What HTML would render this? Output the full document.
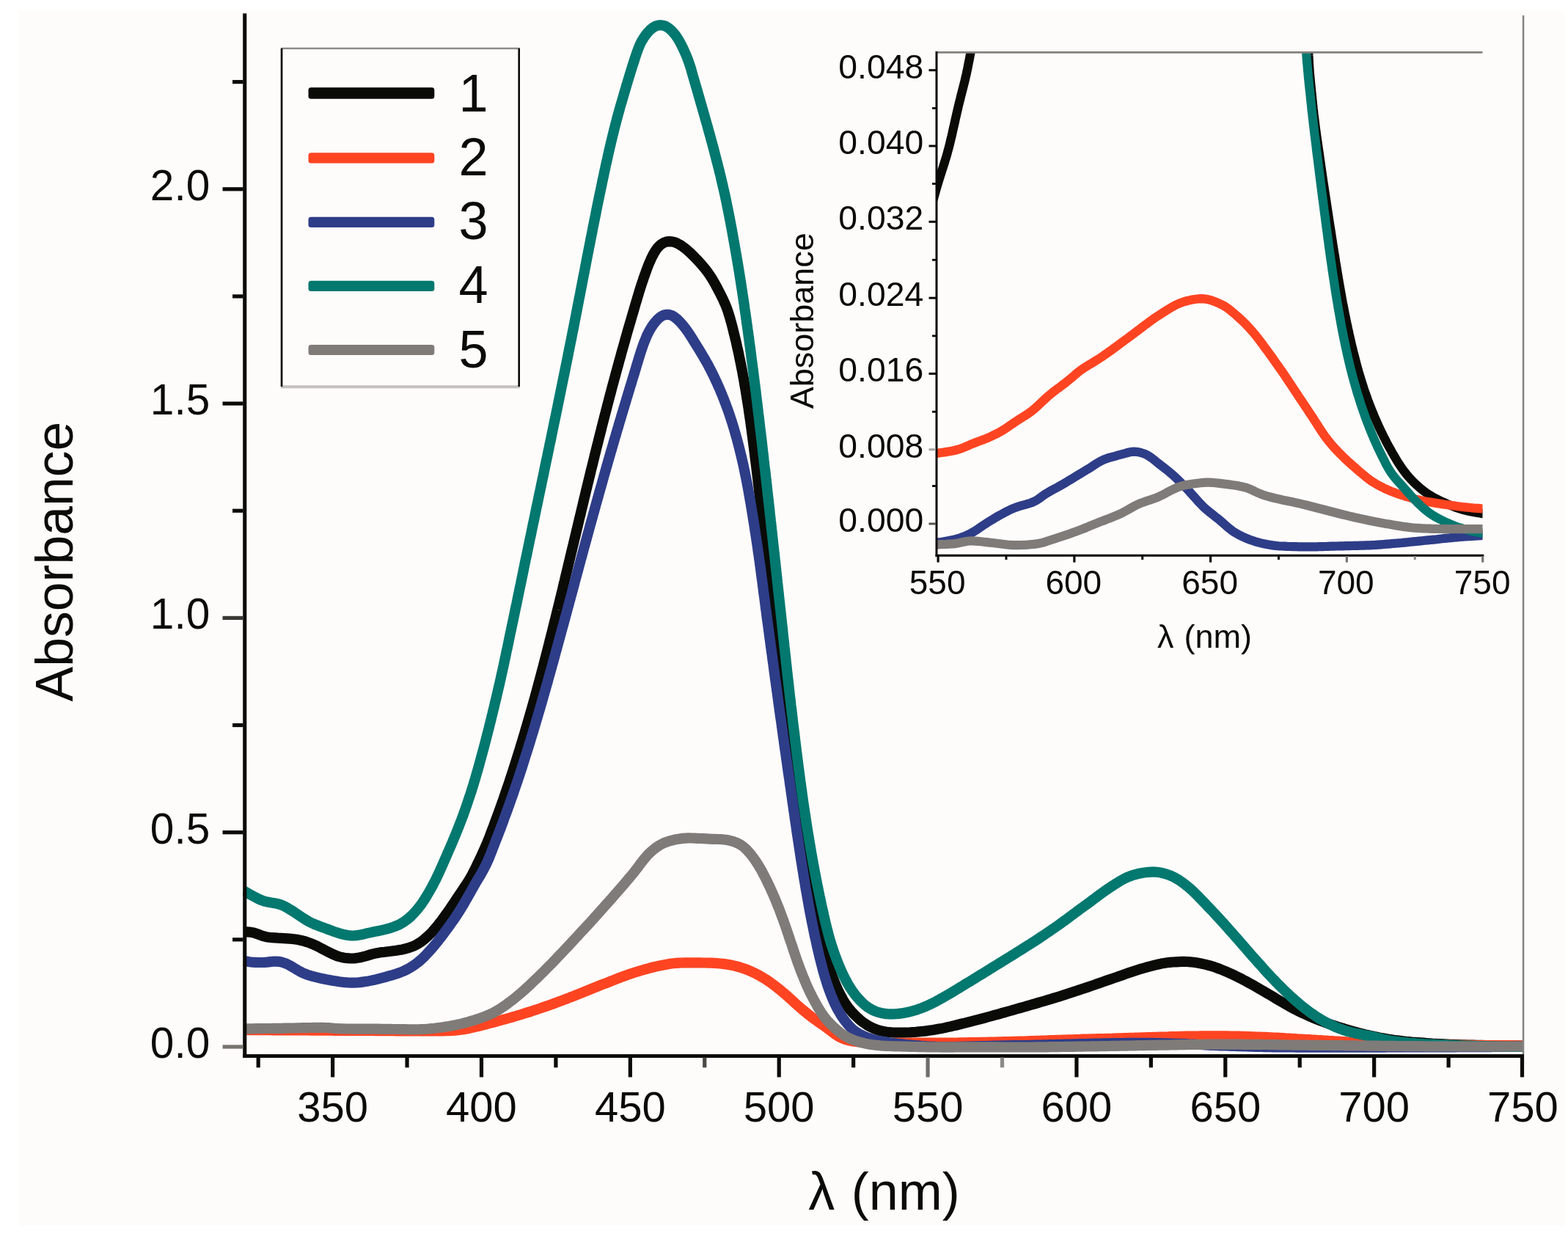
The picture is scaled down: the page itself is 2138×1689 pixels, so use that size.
<!DOCTYPE html>
<html lang="en"><head><meta charset="utf-8"><title>Absorbance spectra</title><style>html,body{margin:0;padding:0;background:#fff;}svg{display:block;}</style></head><body>
<svg width="2138" height="1689" viewBox="0 0 2138 1689" font-family="'Liberation Sans', sans-serif" fill="#0a0b06">
<rect x="0.00" y="0.00" width="2138.00" height="1689.00" fill="#ffffff"/>
<rect x="26.00" y="15.00" width="2107.50" height="1656.00" fill="#fefcfb"/>
<defs><clipPath id="cm"><rect x="331" y="15" width="1747" height="1425"/></clipPath><clipPath id="ci"><rect x="1277" y="71.5" width="744.5" height="685"/></clipPath></defs>
<g clip-path="url(#cm)">
<path d="M332.3,1270.1 L336.4,1270.3 L340.4,1270.6 L344.3,1271.2 L348.1,1272.2 L351.8,1273.5 L355.5,1274.9 L359.2,1276.2 L363.0,1277.2 L366.9,1277.8 L370.8,1278.2 L374.8,1278.4 L378.9,1278.7 L382.9,1278.9 L386.9,1279.1 L390.9,1279.4 L394.9,1279.7 L398.9,1280.0 L402.8,1280.5 L406.7,1281.1 L410.7,1282.0 L414.5,1282.9 L418.4,1284.1 L422.1,1285.4 L425.8,1286.8 L429.5,1288.4 L433.1,1290.2 L436.6,1292.0 L440.2,1293.9 L443.8,1295.8 L447.4,1297.6 L451.0,1299.4 L454.6,1301.2 L458.3,1302.7 L462.0,1304.0 L465.8,1305.0 L469.7,1305.7 L473.7,1306.2 L477.6,1306.5 L481.6,1306.5 L485.6,1306.1 L489.5,1305.5 L493.4,1304.7 L497.3,1303.7 L501.1,1302.6 L505.0,1301.4 L508.8,1300.3 L512.7,1299.4 L516.6,1298.7 L520.5,1298.1 L524.5,1297.7 L528.5,1297.2 L532.5,1296.8 L536.4,1296.3 L540.4,1295.8 L544.4,1295.1 L548.3,1294.4 L552.2,1293.5 L556.0,1292.4 L559.8,1291.2 L563.5,1289.8 L567.1,1288.1 L570.5,1286.1 L573.9,1284.0 L577.1,1281.6 L580.2,1279.0 L583.2,1276.3 L586.1,1273.5 L588.9,1270.7 L591.6,1267.7 L594.2,1264.7 L596.7,1261.6 L599.2,1258.5 L601.7,1255.3 L604.1,1252.1 L606.4,1248.8 L608.8,1245.6 L611.1,1242.3 L613.4,1239.0 L615.6,1235.7 L617.9,1232.4 L620.1,1229.1 L622.3,1225.7 L624.5,1222.4 L626.7,1219.1 L629.0,1215.8 L631.2,1212.5 L633.5,1209.1 L635.7,1205.8 L637.9,1202.5 L640.0,1199.1 L642.0,1195.6 L643.9,1192.1 L645.7,1188.6 L647.5,1185.0 L649.3,1181.4 L651.0,1177.8 L652.8,1174.2 L654.5,1170.6 L656.2,1167.0 L657.9,1163.3 L659.5,1159.7 L661.1,1156.0 L662.7,1152.4 L664.3,1148.7 L665.8,1145.0 L667.3,1141.3 L668.7,1137.5 L670.1,1133.8 L671.5,1130.0 L673.0,1126.3 L674.3,1122.5 L675.7,1118.8 L677.1,1115.0 L678.5,1111.3 L679.9,1107.5 L681.2,1103.8 L682.6,1100.0 L683.9,1096.2 L685.3,1092.5 L686.6,1088.7 L687.9,1084.9 L689.2,1081.1 L690.5,1077.4 L691.8,1073.6 L693.1,1069.8 L694.4,1066.0 L695.6,1062.2 L696.9,1058.4 L698.1,1054.6 L699.4,1050.8 L700.6,1047.0 L701.8,1043.2 L703.0,1039.4 L704.2,1035.5 L705.4,1031.7 L706.6,1027.9 L707.8,1024.1 L709.0,1020.3 L710.1,1016.4 L711.3,1012.6 L712.5,1008.8 L713.6,1004.9 L714.8,1001.1 L715.9,997.3 L717.0,993.4 L718.2,989.6 L719.3,985.8 L720.4,981.9 L721.5,978.1 L722.6,974.2 L723.7,970.4 L724.8,966.6 L725.9,962.7 L727.0,958.9 L728.1,955.0 L729.2,951.1 L730.2,947.3 L731.3,943.4 L732.3,939.6 L733.4,935.7 L734.4,931.9 L735.5,928.0 L736.5,924.1 L737.5,920.3 L738.5,916.4 L739.6,912.5 L740.6,908.7 L741.6,904.8 L742.6,900.9 L743.6,897.0 L744.6,893.2 L745.6,889.3 L746.6,885.4 L747.6,881.5 L748.6,877.7 L749.5,873.8 L750.5,869.9 L751.5,866.0 L752.5,862.2 L753.5,858.3 L754.4,854.4 L755.4,850.5 L756.4,846.6 L757.4,842.8 L758.3,838.9 L759.3,835.0 L760.2,831.1 L761.2,827.2 L762.2,823.3 L763.1,819.5 L764.0,815.6 L765.0,811.7 L765.9,807.8 L766.9,803.9 L767.8,800.0 L768.7,796.1 L769.7,792.2 L770.6,788.3 L771.5,784.5 L772.5,780.6 L773.4,776.7 L774.3,772.8 L775.2,768.9 L776.2,765.0 L777.1,761.1 L778.0,757.2 L779.0,753.3 L779.9,749.4 L780.8,745.6 L781.8,741.7 L782.7,737.8 L783.6,733.9 L784.6,730.0 L785.5,726.1 L786.4,722.2 L787.4,718.3 L788.3,714.4 L789.2,710.5 L790.1,706.7 L791.1,702.8 L792.0,698.9 L792.9,695.0 L793.9,691.1 L794.8,687.2 L795.7,683.3 L796.6,679.4 L797.6,675.5 L798.5,671.6 L799.4,667.7 L800.4,663.9 L801.3,660.0 L802.3,656.1 L803.2,652.2 L804.2,648.3 L805.1,644.4 L806.0,640.5 L807.0,636.7 L808.0,632.8 L808.9,628.9 L809.9,625.0 L810.8,621.1 L811.8,617.2 L812.7,613.4 L813.7,609.5 L814.7,605.6 L815.7,601.7 L816.6,597.8 L817.6,593.9 L818.6,590.1 L819.6,586.2 L820.5,582.3 L821.5,578.4 L822.5,574.6 L823.5,570.7 L824.5,566.8 L825.5,562.9 L826.5,559.1 L827.5,555.2 L828.5,551.3 L829.5,547.4 L830.5,543.6 L831.5,539.7 L832.6,535.8 L833.6,532.0 L834.6,528.1 L835.6,524.2 L836.7,520.4 L837.7,516.5 L838.8,512.7 L839.8,508.8 L840.9,504.9 L841.9,501.1 L843.0,497.2 L844.0,493.4 L845.1,489.5 L846.2,485.7 L847.2,481.8 L848.3,477.9 L849.4,474.1 L850.5,470.2 L851.6,466.4 L852.6,462.5 L853.7,458.7 L854.8,454.9 L855.9,451.0 L857.0,447.2 L858.1,443.3 L859.3,439.5 L860.4,435.6 L861.5,431.8 L862.6,428.0 L863.8,424.1 L864.9,420.3 L866.0,416.4 L867.1,412.6 L868.3,408.8 L869.4,404.9 L870.6,401.1 L871.7,397.3 L872.9,393.4 L874.1,389.6 L875.4,385.8 L876.7,382.0 L877.9,378.2 L879.3,374.5 L880.6,370.7 L882.0,366.9 L883.4,363.1 L884.9,359.4 L886.5,355.8 L888.1,352.1 L889.9,348.5 L891.8,345.0 L893.9,341.6 L896.2,338.3 L898.8,335.4 L901.7,332.9 L904.9,330.9 L908.5,329.6 L912.2,329.1 L916.0,329.3 L919.7,330.2 L923.4,331.7 L926.9,333.5 L930.2,335.7 L933.4,338.0 L936.5,340.5 L939.5,343.2 L942.5,345.9 L945.3,348.7 L948.1,351.6 L950.9,354.5 L953.6,357.4 L956.3,360.4 L958.9,363.5 L961.5,366.6 L963.9,369.7 L966.2,372.9 L968.5,376.2 L970.6,379.6 L972.7,383.0 L974.7,386.5 L976.6,390.0 L978.5,393.5 L980.3,397.1 L982.2,400.6 L984.0,404.2 L985.7,407.8 L987.4,411.5 L989.0,415.1 L990.5,418.8 L991.9,422.6 L993.1,426.3 L994.3,430.2 L995.5,434.0 L996.5,437.9 L997.6,441.7 L998.6,445.6 L999.6,449.5 L1000.5,453.4 L1001.5,457.2 L1002.4,461.1 L1003.4,465.0 L1004.3,468.9 L1005.1,472.8 L1006.0,476.7 L1006.9,480.6 L1007.7,484.6 L1008.5,488.5 L1009.3,492.4 L1010.1,496.3 L1010.9,500.2 L1011.7,504.2 L1012.4,508.1 L1013.1,512.0 L1013.9,516.0 L1014.6,519.9 L1015.2,523.8 L1015.9,527.8 L1016.6,531.7 L1017.2,535.7 L1017.9,539.6 L1018.5,543.6 L1019.1,547.5 L1019.8,551.5 L1020.4,555.4 L1021.0,559.4 L1021.5,563.3 L1022.1,567.3 L1022.7,571.2 L1023.3,575.2 L1023.8,579.2 L1024.4,583.1 L1024.9,587.1 L1025.4,591.1 L1026.0,595.0 L1026.5,599.0 L1027.0,603.0 L1027.5,606.9 L1028.0,610.9 L1028.5,614.9 L1029.0,618.8 L1029.5,622.8 L1030.0,626.8 L1030.5,630.7 L1031.0,634.7 L1031.5,638.7 L1031.9,642.7 L1032.4,646.6 L1032.9,650.6 L1033.4,654.6 L1033.8,658.5 L1034.3,662.5 L1034.8,666.5 L1035.2,670.5 L1035.7,674.4 L1036.1,678.4 L1036.6,682.4 L1037.1,686.4 L1037.5,690.3 L1038.0,694.3 L1038.4,698.3 L1038.9,702.3 L1039.3,706.2 L1039.8,710.2 L1040.2,714.2 L1040.7,718.1 L1041.1,722.1 L1041.6,726.1 L1042.0,730.1 L1042.5,734.0 L1043.0,738.0 L1043.4,742.0 L1043.9,746.0 L1044.3,749.9 L1044.8,753.9 L1045.3,757.9 L1045.7,761.9 L1046.2,765.8 L1046.7,769.8 L1047.1,773.8 L1047.6,777.7 L1048.0,781.7 L1048.5,785.7 L1049.0,789.7 L1049.4,793.6 L1049.9,797.6 L1050.4,801.6 L1050.8,805.6 L1051.3,809.5 L1051.8,813.5 L1052.3,817.5 L1052.7,821.4 L1053.2,825.4 L1053.7,829.4 L1054.2,833.4 L1054.6,837.3 L1055.1,841.3 L1055.6,845.3 L1056.1,849.2 L1056.6,853.2 L1057.1,857.2 L1057.6,861.2 L1058.0,865.1 L1058.5,869.1 L1059.0,873.1 L1059.5,877.0 L1060.0,881.0 L1060.5,885.0 L1061.0,888.9 L1061.5,892.9 L1062.0,896.9 L1062.5,900.8 L1063.0,904.8 L1063.5,908.8 L1064.0,912.8 L1064.5,916.7 L1065.0,920.7 L1065.5,924.7 L1066.1,928.6 L1066.6,932.6 L1067.1,936.6 L1067.6,940.5 L1068.1,944.5 L1068.6,948.5 L1069.1,952.4 L1069.6,956.4 L1070.1,960.4 L1070.7,964.3 L1071.2,968.3 L1071.7,972.3 L1072.2,976.2 L1072.7,980.2 L1073.3,984.2 L1073.8,988.1 L1074.3,992.1 L1074.8,996.1 L1075.4,1000.0 L1075.9,1004.0 L1076.4,1007.9 L1076.9,1011.9 L1077.5,1015.9 L1078.0,1019.8 L1078.5,1023.8 L1079.1,1027.8 L1079.6,1031.7 L1080.1,1035.7 L1080.7,1039.7 L1081.2,1043.6 L1081.7,1047.6 L1082.3,1051.6 L1082.8,1055.5 L1083.3,1059.5 L1083.9,1063.4 L1084.4,1067.4 L1085.0,1071.4 L1085.5,1075.3 L1086.1,1079.3 L1086.6,1083.3 L1087.2,1087.2 L1087.8,1091.2 L1088.3,1095.1 L1088.9,1099.1 L1089.5,1103.1 L1090.0,1107.0 L1090.6,1111.0 L1091.2,1114.9 L1091.8,1118.9 L1092.3,1122.8 L1092.9,1126.8 L1093.5,1130.8 L1094.1,1134.7 L1094.7,1138.7 L1095.3,1142.6 L1095.9,1146.6 L1096.5,1150.5 L1097.2,1154.5 L1097.8,1158.4 L1098.4,1162.4 L1099.1,1166.3 L1099.7,1170.3 L1100.3,1174.2 L1101.0,1178.2 L1101.7,1182.1 L1102.3,1186.1 L1103.0,1190.0 L1103.7,1193.9 L1104.4,1197.9 L1105.1,1201.8 L1105.8,1205.8 L1106.5,1209.7 L1107.2,1213.6 L1107.9,1217.6 L1108.7,1221.5 L1109.4,1225.4 L1110.2,1229.4 L1110.9,1233.3 L1111.7,1237.2 L1112.5,1241.1 L1113.3,1245.0 L1114.1,1249.0 L1115.0,1252.9 L1115.8,1256.8 L1116.7,1260.7 L1117.5,1264.6 L1118.4,1268.5 L1119.3,1272.4 L1120.2,1276.3 L1121.2,1280.2 L1122.1,1284.1 L1123.0,1288.0 L1124.0,1291.9 L1125.0,1295.8 L1125.9,1299.7 L1126.9,1303.6 L1127.9,1307.4 L1129.0,1311.3 L1130.1,1315.2 L1131.2,1319.0 L1132.3,1322.8 L1133.6,1326.6 L1134.8,1330.4 L1136.2,1334.1 L1137.6,1337.9 L1139.1,1341.6 L1140.7,1345.3 L1142.3,1349.0 L1144.1,1352.6 L1145.9,1356.2 L1147.8,1359.7 L1149.7,1363.2 L1151.8,1366.6 L1154.0,1369.9 L1156.3,1373.1 L1158.8,1376.2 L1161.4,1379.3 L1164.1,1382.2 L1167.0,1385.1 L1169.9,1387.8 L1172.9,1390.5 L1176.0,1393.0 L1179.3,1395.3 L1182.6,1397.5 L1186.1,1399.5 L1189.7,1401.2 L1193.3,1402.8 L1197.1,1404.1 L1200.9,1405.2 L1204.8,1406.0 L1208.8,1406.7 L1212.7,1407.1 L1216.7,1407.5 L1220.7,1407.7 L1224.7,1407.7 L1228.7,1407.7 L1232.7,1407.6 L1236.7,1407.5 L1240.7,1407.3 L1244.7,1407.0 L1248.7,1406.8 L1252.7,1406.4 L1256.7,1406.0 L1260.6,1405.6 L1264.6,1405.1 L1268.6,1404.5 L1272.5,1404.0 L1276.5,1403.3 L1280.4,1402.6 L1284.3,1401.9 L1288.2,1401.1 L1292.1,1400.2 L1296.0,1399.3 L1299.9,1398.4 L1303.8,1397.5 L1307.7,1396.5 L1311.6,1395.5 L1315.5,1394.6 L1319.4,1393.6 L1323.3,1392.6 L1327.1,1391.7 L1331.0,1390.7 L1334.9,1389.7 L1338.8,1388.6 L1342.6,1387.6 L1346.5,1386.5 L1350.3,1385.5 L1354.2,1384.4 L1358.0,1383.3 L1361.9,1382.3 L1365.8,1381.2 L1369.6,1380.1 L1373.5,1379.0 L1377.3,1378.0 L1381.2,1376.9 L1385.0,1375.8 L1388.9,1374.7 L1392.7,1373.6 L1396.6,1372.5 L1400.4,1371.4 L1404.2,1370.3 L1408.1,1369.2 L1411.9,1368.1 L1415.8,1366.9 L1419.6,1365.8 L1423.4,1364.7 L1427.3,1363.5 L1431.1,1362.4 L1434.9,1361.2 L1438.8,1360.1 L1442.6,1358.9 L1446.4,1357.7 L1450.2,1356.5 L1454.0,1355.2 L1457.8,1354.0 L1461.6,1352.8 L1465.4,1351.5 L1469.2,1350.3 L1473.0,1349.0 L1476.8,1347.8 L1480.6,1346.5 L1484.4,1345.2 L1488.2,1343.9 L1492.0,1342.6 L1495.7,1341.3 L1499.5,1340.0 L1503.3,1338.6 L1507.1,1337.3 L1510.8,1336.0 L1514.6,1334.7 L1518.4,1333.4 L1522.2,1332.1 L1526.0,1330.8 L1529.8,1329.5 L1533.5,1328.1 L1537.3,1326.8 L1541.1,1325.5 L1544.9,1324.2 L1548.7,1323.0 L1552.5,1321.8 L1556.3,1320.6 L1560.2,1319.5 L1564.0,1318.4 L1567.9,1317.4 L1571.8,1316.4 L1575.7,1315.4 L1579.6,1314.5 L1583.5,1313.6 L1587.4,1312.9 L1591.4,1312.3 L1595.3,1311.9 L1599.3,1311.5 L1603.3,1311.3 L1607.3,1311.1 L1611.3,1310.9 L1615.3,1310.9 L1619.3,1311.0 L1623.2,1311.3 L1627.2,1311.7 L1631.2,1312.3 L1635.1,1313.0 L1639.1,1313.8 L1643.0,1314.7 L1646.8,1315.6 L1650.7,1316.7 L1654.5,1317.8 L1658.3,1319.1 L1662.0,1320.5 L1665.8,1322.0 L1669.5,1323.5 L1673.2,1325.1 L1676.9,1326.7 L1680.5,1328.3 L1684.1,1330.0 L1687.7,1331.8 L1691.3,1333.6 L1694.8,1335.5 L1698.3,1337.3 L1701.9,1339.3 L1705.4,1341.2 L1708.9,1343.1 L1712.4,1345.1 L1715.8,1347.1 L1719.3,1349.1 L1722.7,1351.1 L1726.2,1353.1 L1729.6,1355.2 L1733.1,1357.2 L1736.5,1359.2 L1740.0,1361.3 L1743.4,1363.3 L1746.9,1365.3 L1750.4,1367.3 L1753.8,1369.3 L1757.3,1371.3 L1760.8,1373.3 L1764.3,1375.2 L1767.8,1377.0 L1771.4,1378.8 L1775.0,1380.5 L1778.6,1382.2 L1782.3,1383.9 L1785.9,1385.5 L1789.6,1387.1 L1793.3,1388.6 L1797.0,1390.1 L1800.8,1391.5 L1804.5,1392.9 L1808.3,1394.3 L1812.0,1395.7 L1815.8,1397.0 L1819.6,1398.2 L1823.4,1399.5 L1827.2,1400.7 L1831.1,1401.9 L1834.9,1403.0 L1838.7,1404.2 L1842.6,1405.3 L1846.4,1406.4 L1850.3,1407.4 L1854.1,1408.5 L1858.0,1409.4 L1861.9,1410.4 L1865.8,1411.2 L1869.7,1412.1 L1873.6,1413.0 L1877.5,1413.8 L1881.5,1414.6 L1885.4,1415.3 L1889.3,1416.0 L1893.3,1416.7 L1897.2,1417.3 L1901.2,1417.9 L1905.1,1418.4 L1909.1,1418.9 L1913.1,1419.4 L1917.1,1419.8 L1921.1,1420.1 L1925.0,1420.5 L1929.0,1420.8 L1933.0,1421.1 L1937.0,1421.4 L1941.0,1421.7 L1945.0,1422.0 L1949.0,1422.3 L1953.0,1422.6 L1956.9,1422.8 L1960.9,1423.0 L1964.9,1423.2 L1968.9,1423.4 L1972.9,1423.6 L1976.9,1423.8 L1980.9,1423.9 L1984.9,1424.1 L1988.9,1424.2 L1992.9,1424.3 L1996.9,1424.4 L2000.9,1424.5 L2004.9,1424.6 L2008.9,1424.7 L2012.9,1424.8 L2016.9,1424.9 L2020.9,1424.9 L2024.9,1425.0 L2028.9,1425.1 L2032.9,1425.1 L2036.9,1425.2 L2040.9,1425.3 L2044.9,1425.3 L2048.9,1425.4 L2052.9,1425.4 L2056.9,1425.4 L2060.9,1425.5 L2064.9,1425.5 L2068.9,1425.5 L2072.9,1425.6 L2076.9,1425.6 L2080.9,1425.6 L2084.9,1425.6" fill="none" stroke="#0a0b06" stroke-width="14.2" stroke-linejoin="round" stroke-linecap="butt" />
<path d="M332.4,1404.0 L336.4,1404.0 L340.4,1404.1 L344.4,1404.1 L348.4,1404.1 L352.4,1404.1 L356.4,1404.2 L360.4,1404.2 L364.4,1404.2 L368.4,1404.2 L372.4,1404.3 L376.4,1404.3 L380.4,1404.3 L384.4,1404.3 L388.4,1404.4 L392.4,1404.4 L396.4,1404.4 L400.4,1404.4 L404.4,1404.5 L408.4,1404.5 L412.4,1404.5 L416.4,1404.5 L420.4,1404.5 L424.4,1404.6 L428.4,1404.6 L432.4,1404.6 L436.4,1404.6 L440.4,1404.7 L444.4,1404.7 L448.4,1404.7 L452.4,1404.7 L456.4,1404.8 L460.4,1404.8 L464.4,1404.8 L468.4,1404.8 L472.4,1404.8 L476.4,1404.9 L480.4,1404.9 L484.4,1404.9 L488.4,1404.9 L492.4,1405.0 L496.4,1405.0 L500.4,1405.0 L504.4,1405.0 L508.4,1405.0 L512.4,1405.1 L516.4,1405.1 L520.4,1405.1 L524.4,1405.2 L528.4,1405.2 L532.4,1405.2 L536.4,1405.2 L540.4,1405.3 L544.4,1405.3 L548.4,1405.3 L552.4,1405.3 L556.4,1405.4 L560.4,1405.4 L564.4,1405.4 L568.4,1405.4 L572.4,1405.4 L576.4,1405.4 L580.4,1405.5 L584.4,1405.5 L588.4,1405.5 L592.4,1405.5 L596.4,1405.5 L600.4,1405.4 L604.4,1405.4 L608.4,1405.2 L612.4,1405.1 L616.4,1404.8 L620.4,1404.6 L624.4,1404.2 L628.3,1403.8 L632.3,1403.2 L636.2,1402.5 L640.1,1401.7 L644.0,1400.8 L647.9,1399.9 L651.8,1399.0 L655.7,1398.0 L659.6,1397.0 L663.5,1396.0 L667.3,1395.0 L671.2,1394.0 L675.1,1393.0 L678.9,1392.0 L682.8,1390.9 L686.6,1389.8 L690.5,1388.8 L694.3,1387.7 L698.2,1386.6 L702.0,1385.5 L705.9,1384.3 L709.7,1383.2 L713.5,1382.0 L717.3,1380.8 L721.2,1379.6 L725.0,1378.4 L728.8,1377.1 L732.6,1375.9 L736.4,1374.6 L740.1,1373.3 L743.9,1372.0 L747.7,1370.7 L751.5,1369.4 L755.2,1368.0 L759.0,1366.6 L762.7,1365.2 L766.5,1363.8 L770.2,1362.4 L774.0,1361.0 L777.7,1359.5 L781.4,1358.1 L785.1,1356.6 L788.9,1355.1 L792.6,1353.7 L796.3,1352.2 L800.0,1350.7 L803.7,1349.2 L807.4,1347.7 L811.1,1346.2 L814.8,1344.7 L818.5,1343.2 L822.3,1341.7 L826.0,1340.3 L829.7,1338.8 L833.4,1337.3 L837.2,1335.9 L840.9,1334.4 L844.6,1333.0 L848.4,1331.5 L852.1,1330.2 L855.9,1328.8 L859.7,1327.5 L863.5,1326.3 L867.3,1325.1 L871.1,1323.9 L874.9,1322.8 L878.8,1321.6 L882.6,1320.6 L886.5,1319.5 L890.4,1318.5 L894.3,1317.6 L898.2,1316.7 L902.1,1315.9 L906.0,1315.2 L910.0,1314.5 L913.9,1313.8 L917.9,1313.3 L921.9,1312.9 L925.8,1312.6 L929.8,1312.5 L933.8,1312.4 L937.8,1312.4 L941.8,1312.4 L945.8,1312.4 L949.8,1312.4 L953.8,1312.4 L957.8,1312.5 L961.8,1312.5 L965.8,1312.6 L969.8,1312.7 L973.8,1312.9 L977.8,1313.1 L981.8,1313.5 L985.8,1313.9 L989.7,1314.4 L993.7,1315.0 L997.6,1315.8 L1001.5,1316.6 L1005.4,1317.6 L1009.3,1318.7 L1013.1,1319.9 L1016.8,1321.2 L1020.6,1322.7 L1024.2,1324.3 L1027.9,1325.9 L1031.4,1327.7 L1035.0,1329.6 L1038.4,1331.6 L1041.9,1333.6 L1045.3,1335.8 L1048.6,1338.0 L1051.8,1340.3 L1055.1,1342.7 L1058.2,1345.1 L1061.4,1347.6 L1064.5,1350.1 L1067.5,1352.7 L1070.6,1355.3 L1073.6,1357.9 L1076.6,1360.6 L1079.6,1363.3 L1082.5,1366.0 L1085.5,1368.7 L1088.5,1371.3 L1091.5,1374.0 L1094.5,1376.6 L1097.6,1379.1 L1100.7,1381.6 L1103.8,1384.1 L1107.0,1386.6 L1110.2,1389.0 L1113.4,1391.4 L1116.6,1393.7 L1119.9,1396.0 L1123.2,1398.3 L1126.4,1400.6 L1129.7,1403.0 L1132.9,1405.4 L1136.1,1407.8 L1139.3,1410.2 L1142.6,1412.4 L1146.1,1414.3 L1149.6,1415.9 L1153.4,1417.2 L1157.2,1418.3 L1161.1,1419.1 L1165.1,1419.8 L1169.0,1420.3 L1173.0,1420.7 L1177.0,1421.0 L1181.0,1421.3 L1185.0,1421.5 L1189.0,1421.7 L1193.0,1421.8 L1197.0,1421.9 L1201.0,1421.9 L1205.0,1421.9 L1209.0,1421.9 L1213.0,1421.9 L1217.0,1421.9 L1221.0,1421.8 L1225.0,1421.8 L1229.0,1421.8 L1233.0,1421.8 L1237.0,1421.8 L1241.0,1421.7 L1245.0,1421.7 L1249.0,1421.7 L1253.0,1421.7 L1257.0,1421.7 L1261.0,1421.7 L1265.0,1421.7 L1269.0,1421.7 L1273.0,1421.7 L1277.0,1421.7 L1281.0,1421.7 L1285.0,1421.7 L1289.0,1421.6 L1293.0,1421.6 L1297.0,1421.6 L1301.0,1421.5 L1305.0,1421.5 L1309.0,1421.4 L1313.0,1421.3 L1317.0,1421.3 L1321.0,1421.2 L1325.0,1421.1 L1329.0,1421.1 L1333.0,1421.0 L1337.0,1420.9 L1341.0,1420.9 L1345.0,1420.8 L1349.0,1420.7 L1353.0,1420.6 L1357.0,1420.5 L1361.0,1420.4 L1365.0,1420.3 L1369.0,1420.2 L1373.0,1420.1 L1377.0,1420.0 L1381.0,1419.9 L1385.0,1419.8 L1389.0,1419.7 L1393.0,1419.6 L1397.0,1419.5 L1401.0,1419.3 L1405.0,1419.2 L1409.0,1419.1 L1413.0,1418.9 L1417.0,1418.8 L1421.0,1418.6 L1425.0,1418.5 L1429.0,1418.3 L1433.0,1418.2 L1437.0,1418.1 L1441.0,1417.9 L1445.0,1417.8 L1449.0,1417.7 L1453.0,1417.6 L1457.0,1417.4 L1461.0,1417.3 L1465.0,1417.2 L1469.0,1417.0 L1473.0,1416.9 L1477.0,1416.7 L1481.0,1416.6 L1485.0,1416.5 L1489.0,1416.4 L1493.0,1416.3 L1497.0,1416.2 L1501.0,1416.1 L1505.0,1416.0 L1509.0,1415.9 L1513.0,1415.8 L1517.0,1415.7 L1520.9,1415.5 L1524.9,1415.4 L1528.9,1415.3 L1532.9,1415.2 L1536.9,1415.1 L1540.9,1414.9 L1544.9,1414.8 L1548.9,1414.7 L1552.9,1414.6 L1556.9,1414.4 L1560.9,1414.3 L1564.9,1414.2 L1568.9,1414.1 L1572.9,1413.9 L1576.9,1413.8 L1580.9,1413.7 L1584.9,1413.6 L1588.9,1413.5 L1592.9,1413.4 L1596.9,1413.2 L1600.9,1413.1 L1604.9,1413.0 L1608.9,1412.9 L1612.9,1412.8 L1616.9,1412.7 L1620.9,1412.7 L1624.9,1412.6 L1628.9,1412.5 L1632.9,1412.5 L1636.9,1412.4 L1640.9,1412.4 L1644.9,1412.4 L1648.9,1412.3 L1652.9,1412.3 L1656.9,1412.3 L1660.9,1412.3 L1664.9,1412.3 L1668.9,1412.4 L1672.9,1412.4 L1676.9,1412.5 L1680.9,1412.5 L1684.9,1412.6 L1688.9,1412.7 L1692.9,1412.8 L1696.9,1412.9 L1700.9,1413.0 L1704.9,1413.2 L1708.9,1413.3 L1712.9,1413.5 L1716.9,1413.6 L1720.9,1413.8 L1724.9,1413.9 L1728.9,1414.1 L1732.9,1414.3 L1736.9,1414.5 L1740.9,1414.7 L1744.9,1414.9 L1748.9,1415.1 L1752.8,1415.4 L1756.8,1415.6 L1760.8,1415.8 L1764.8,1416.0 L1768.8,1416.3 L1772.8,1416.5 L1776.8,1416.8 L1780.8,1417.0 L1784.8,1417.2 L1788.8,1417.5 L1792.8,1417.7 L1796.8,1418.0 L1800.8,1418.2 L1804.7,1418.5 L1808.7,1418.7 L1812.7,1419.0 L1816.7,1419.2 L1820.7,1419.5 L1824.7,1419.7 L1828.7,1420.0 L1832.7,1420.2 L1836.7,1420.5 L1840.7,1420.7 L1844.7,1421.0 L1848.7,1421.2 L1852.7,1421.4 L1856.7,1421.5 L1860.7,1421.7 L1864.7,1421.9 L1868.6,1422.1 L1872.6,1422.2 L1876.6,1422.4 L1880.6,1422.5 L1884.6,1422.7 L1888.6,1422.8 L1892.6,1423.0 L1896.6,1423.1 L1900.6,1423.2 L1904.6,1423.4 L1908.6,1423.5 L1912.6,1423.6 L1916.6,1423.7 L1920.6,1423.8 L1924.6,1423.9 L1928.6,1424.0 L1932.6,1424.1 L1936.6,1424.1 L1940.6,1424.2 L1944.6,1424.3 L1948.6,1424.3 L1952.6,1424.4 L1956.6,1424.4 L1960.6,1424.5 L1964.6,1424.5 L1968.6,1424.6 L1972.6,1424.6 L1976.6,1424.7 L1980.6,1424.7 L1984.6,1424.8 L1988.6,1424.8 L1992.6,1424.8 L1996.6,1424.9 L2000.6,1424.9 L2004.6,1424.9 L2008.6,1424.9 L2012.6,1425.0 L2016.6,1425.0 L2020.6,1425.0 L2024.6,1425.0 L2028.6,1425.1 L2032.6,1425.1 L2036.6,1425.1 L2040.6,1425.1 L2044.6,1425.1 L2048.6,1425.2 L2052.6,1425.2 L2056.6,1425.2 L2060.6,1425.2 L2064.6,1425.2 L2068.6,1425.3 L2072.6,1425.3 L2076.6,1425.3 L2080.6,1425.3 L2084.6,1425.3" fill="none" stroke="#ff4422" stroke-width="14.2" stroke-linejoin="round" stroke-linecap="butt" />
<path d="M332.4,1310.0 L336.4,1310.6 L340.4,1311.2 L344.4,1311.6 L348.4,1311.8 L352.4,1312.0 L356.4,1312.0 L360.3,1311.9 L364.3,1311.6 L368.3,1311.1 L372.2,1310.7 L376.1,1310.6 L380.0,1310.8 L383.9,1311.5 L387.6,1312.7 L391.3,1314.2 L394.9,1316.0 L398.4,1318.0 L401.8,1320.0 L405.2,1322.1 L408.7,1324.1 L412.2,1325.9 L415.9,1327.5 L419.6,1328.9 L423.4,1330.1 L427.3,1331.2 L431.2,1332.2 L435.1,1333.1 L439.0,1334.0 L442.9,1334.8 L446.8,1335.6 L450.7,1336.3 L454.7,1337.0 L458.6,1337.6 L462.6,1338.2 L466.6,1338.7 L470.6,1339.2 L474.5,1339.5 L478.5,1339.7 L482.5,1339.7 L486.5,1339.5 L490.5,1339.1 L494.4,1338.6 L498.4,1338.0 L502.3,1337.4 L506.3,1336.6 L510.2,1335.8 L514.1,1334.9 L517.9,1333.9 L521.8,1332.9 L525.7,1331.8 L529.6,1330.7 L533.4,1329.7 L537.3,1328.5 L541.1,1327.3 L544.8,1326.0 L548.5,1324.5 L552.2,1322.9 L555.7,1321.1 L559.2,1319.1 L562.6,1317.0 L565.9,1314.8 L569.1,1312.4 L572.2,1309.9 L575.2,1307.2 L578.1,1304.5 L580.9,1301.6 L583.6,1298.7 L586.3,1295.7 L589.0,1292.7 L591.6,1289.7 L594.1,1286.6 L596.7,1283.5 L599.1,1280.3 L601.6,1277.2 L604.0,1274.0 L606.4,1270.8 L608.8,1267.6 L611.2,1264.3 L613.5,1261.1 L615.8,1257.8 L618.1,1254.6 L620.4,1251.3 L622.6,1247.9 L624.8,1244.6 L626.9,1241.2 L629.0,1237.8 L631.1,1234.4 L633.1,1230.9 L635.1,1227.5 L637.1,1224.0 L639.1,1220.5 L641.1,1217.0 L643.0,1213.6 L645.0,1210.1 L647.0,1206.6 L649.0,1203.1 L651.0,1199.7 L653.1,1196.2 L655.1,1192.8 L657.1,1189.3 L659.1,1185.8 L660.9,1182.3 L662.7,1178.7 L664.4,1175.1 L666.0,1171.5 L667.5,1167.8 L669.0,1164.1 L670.5,1160.3 L671.9,1156.6 L673.4,1152.9 L674.8,1149.1 L676.3,1145.4 L677.8,1141.7 L679.2,1138.0 L680.6,1134.2 L682.1,1130.5 L683.5,1126.7 L684.9,1123.0 L686.3,1119.2 L687.6,1115.5 L689.0,1111.7 L690.4,1108.0 L691.8,1104.2 L693.1,1100.4 L694.5,1096.7 L695.8,1092.9 L697.1,1089.1 L698.5,1085.4 L699.8,1081.6 L701.1,1077.8 L702.4,1074.0 L703.7,1070.2 L705.0,1066.5 L706.3,1062.7 L707.5,1058.9 L708.8,1055.1 L710.0,1051.3 L711.3,1047.5 L712.5,1043.7 L713.7,1039.9 L714.9,1036.0 L716.1,1032.2 L717.3,1028.4 L718.5,1024.6 L719.7,1020.8 L720.9,1017.0 L722.1,1013.1 L723.3,1009.3 L724.4,1005.5 L725.6,1001.7 L726.8,997.8 L727.9,994.0 L729.1,990.2 L730.2,986.3 L731.3,982.5 L732.5,978.7 L733.6,974.8 L734.7,971.0 L735.9,967.2 L737.0,963.3 L738.1,959.5 L739.2,955.6 L740.3,951.8 L741.4,947.9 L742.5,944.1 L743.6,940.2 L744.7,936.4 L745.8,932.5 L746.9,928.7 L747.9,924.8 L749.0,921.0 L750.1,917.1 L751.2,913.3 L752.2,909.4 L753.3,905.6 L754.4,901.7 L755.4,897.9 L756.5,894.0 L757.5,890.1 L758.6,886.3 L759.6,882.4 L760.7,878.6 L761.7,874.7 L762.8,870.9 L763.8,867.0 L764.9,863.1 L765.9,859.3 L767.0,855.4 L768.1,851.6 L769.1,847.7 L770.2,843.8 L771.2,840.0 L772.3,836.1 L773.3,832.3 L774.3,828.4 L775.4,824.5 L776.4,820.7 L777.5,816.8 L778.5,812.9 L779.6,809.1 L780.6,805.2 L781.6,801.4 L782.7,797.5 L783.7,793.6 L784.7,789.8 L785.8,785.9 L786.8,782.0 L787.9,778.2 L788.9,774.3 L789.9,770.5 L791.0,766.6 L792.0,762.7 L793.1,758.9 L794.1,755.0 L795.2,751.1 L796.2,747.3 L797.3,743.4 L798.3,739.6 L799.4,735.7 L800.4,731.9 L801.5,728.0 L802.6,724.1 L803.6,720.3 L804.7,716.4 L805.7,712.6 L806.8,708.7 L807.9,704.9 L808.9,701.0 L810.0,697.2 L811.1,693.3 L812.1,689.4 L813.2,685.6 L814.3,681.7 L815.4,677.9 L816.4,674.0 L817.5,670.2 L818.6,666.3 L819.7,662.5 L820.8,658.6 L821.9,654.8 L822.9,650.9 L824.0,647.1 L825.1,643.2 L826.2,639.4 L827.3,635.5 L828.4,631.7 L829.5,627.8 L830.6,624.0 L831.7,620.2 L832.8,616.3 L834.0,612.5 L835.1,608.6 L836.2,604.8 L837.3,601.0 L838.4,597.1 L839.6,593.3 L840.7,589.4 L841.8,585.6 L843.0,581.8 L844.1,577.9 L845.2,574.1 L846.4,570.3 L847.5,566.4 L848.7,562.6 L849.8,558.8 L851.0,554.9 L852.1,551.1 L853.3,547.3 L854.4,543.4 L855.6,539.6 L856.7,535.8 L857.9,532.0 L859.0,528.1 L860.2,524.3 L861.4,520.5 L862.5,516.6 L863.7,512.8 L864.9,509.0 L866.0,505.2 L867.2,501.3 L868.3,497.5 L869.5,493.7 L870.6,489.8 L871.8,486.0 L873.0,482.2 L874.2,478.4 L875.5,474.6 L876.8,470.8 L878.2,467.0 L879.7,463.3 L881.2,459.6 L882.8,455.9 L884.6,452.4 L886.5,448.9 L888.6,445.5 L890.8,442.2 L893.3,439.1 L895.9,436.1 L898.8,433.4 L901.9,431.1 L905.3,429.5 L908.9,428.8 L912.5,428.9 L916.0,430.0 L919.3,431.9 L922.4,434.3 L925.3,437.0 L928.1,439.9 L930.7,442.9 L933.3,446.0 L935.7,449.2 L938.0,452.4 L940.2,455.7 L942.4,459.1 L944.5,462.5 L946.6,465.9 L948.7,469.3 L950.8,472.7 L952.9,476.1 L955.0,479.5 L957.1,482.9 L959.1,486.4 L961.2,489.8 L963.1,493.3 L965.1,496.8 L966.9,500.4 L968.8,503.9 L970.6,507.5 L972.4,511.0 L974.1,514.6 L975.8,518.3 L977.5,521.9 L979.1,525.5 L980.8,529.2 L982.3,532.9 L983.9,536.6 L985.4,540.3 L986.9,544.0 L988.3,547.7 L989.7,551.5 L991.1,555.2 L992.5,559.0 L993.8,562.8 L995.1,566.5 L996.3,570.3 L997.6,574.1 L998.8,578.0 L1000.0,581.8 L1001.1,585.6 L1002.2,589.4 L1003.3,593.3 L1004.4,597.1 L1005.4,601.0 L1006.5,604.9 L1007.5,608.8 L1008.5,612.6 L1009.4,616.5 L1010.4,620.4 L1011.3,624.3 L1012.2,628.2 L1013.1,632.1 L1014.0,636.0 L1014.8,639.9 L1015.6,643.8 L1016.4,647.7 L1017.2,651.6 L1018.0,655.6 L1018.7,659.5 L1019.5,663.4 L1020.2,667.4 L1020.9,671.3 L1021.6,675.2 L1022.3,679.2 L1023.0,683.1 L1023.7,687.1 L1024.3,691.0 L1025.0,695.0 L1025.6,698.9 L1026.3,702.9 L1026.9,706.8 L1027.5,710.8 L1028.2,714.7 L1028.8,718.7 L1029.4,722.6 L1030.0,726.6 L1030.6,730.5 L1031.2,734.5 L1031.8,738.4 L1032.4,742.4 L1033.0,746.4 L1033.5,750.3 L1034.1,754.3 L1034.7,758.2 L1035.2,762.2 L1035.8,766.2 L1036.3,770.1 L1036.9,774.1 L1037.4,778.0 L1037.9,782.0 L1038.4,786.0 L1039.0,789.9 L1039.5,793.9 L1040.0,797.9 L1040.5,801.8 L1041.0,805.8 L1041.5,809.8 L1042.1,813.7 L1042.6,817.7 L1043.1,821.7 L1043.6,825.6 L1044.1,829.6 L1044.7,833.6 L1045.2,837.5 L1045.7,841.5 L1046.2,845.5 L1046.8,849.4 L1047.3,853.4 L1047.8,857.4 L1048.4,861.3 L1048.9,865.3 L1049.4,869.3 L1050.0,873.2 L1050.5,877.2 L1051.0,881.2 L1051.6,885.1 L1052.1,889.1 L1052.7,893.0 L1053.2,897.0 L1053.7,901.0 L1054.3,904.9 L1054.8,908.9 L1055.3,912.9 L1055.9,916.8 L1056.4,920.8 L1056.9,924.8 L1057.5,928.7 L1058.0,932.7 L1058.6,936.6 L1059.1,940.6 L1059.7,944.6 L1060.2,948.5 L1060.8,952.5 L1061.3,956.5 L1061.8,960.4 L1062.4,964.4 L1062.9,968.3 L1063.5,972.3 L1064.0,976.3 L1064.6,980.2 L1065.2,984.2 L1065.7,988.2 L1066.3,992.1 L1066.8,996.1 L1067.4,1000.0 L1067.9,1004.0 L1068.5,1008.0 L1069.0,1011.9 L1069.6,1015.9 L1070.1,1019.8 L1070.7,1023.8 L1071.3,1027.8 L1071.8,1031.7 L1072.4,1035.7 L1073.0,1039.6 L1073.5,1043.6 L1074.1,1047.6 L1074.6,1051.5 L1075.2,1055.5 L1075.8,1059.4 L1076.4,1063.4 L1076.9,1067.4 L1077.5,1071.3 L1078.1,1075.3 L1078.6,1079.2 L1079.2,1083.2 L1079.8,1087.2 L1080.3,1091.1 L1080.9,1095.1 L1081.5,1099.0 L1082.0,1103.0 L1082.6,1107.0 L1083.2,1110.9 L1083.7,1114.9 L1084.3,1118.8 L1084.9,1122.8 L1085.5,1126.8 L1086.0,1130.7 L1086.6,1134.7 L1087.2,1138.6 L1087.8,1142.6 L1088.4,1146.5 L1089.0,1150.5 L1089.6,1154.5 L1090.2,1158.4 L1090.8,1162.4 L1091.4,1166.3 L1092.0,1170.3 L1092.6,1174.2 L1093.3,1178.2 L1093.9,1182.1 L1094.5,1186.1 L1095.2,1190.0 L1095.8,1194.0 L1096.4,1197.9 L1097.1,1201.9 L1097.8,1205.8 L1098.4,1209.7 L1099.1,1213.7 L1099.8,1217.6 L1100.5,1221.6 L1101.2,1225.5 L1101.9,1229.5 L1102.6,1233.4 L1103.3,1237.3 L1104.0,1241.3 L1104.8,1245.2 L1105.5,1249.1 L1106.3,1253.0 L1107.1,1257.0 L1107.9,1260.9 L1108.7,1264.8 L1109.5,1268.7 L1110.3,1272.6 L1111.1,1276.5 L1112.0,1280.5 L1112.9,1284.4 L1113.7,1288.3 L1114.6,1292.2 L1115.5,1296.1 L1116.4,1300.0 L1117.3,1303.9 L1118.3,1307.8 L1119.3,1311.6 L1120.3,1315.5 L1121.3,1319.4 L1122.3,1323.2 L1123.4,1327.1 L1124.5,1330.9 L1125.7,1334.7 L1126.9,1338.6 L1128.1,1342.4 L1129.4,1346.2 L1130.8,1350.0 L1132.1,1353.7 L1133.6,1357.5 L1135.1,1361.2 L1136.7,1364.8 L1138.3,1368.5 L1140.1,1372.0 L1141.9,1375.6 L1143.9,1379.1 L1146.0,1382.6 L1148.1,1385.9 L1150.4,1389.2 L1152.8,1392.4 L1155.3,1395.5 L1158.0,1398.6 L1160.8,1401.4 L1163.7,1404.1 L1166.9,1406.5 L1170.2,1408.6 L1173.6,1410.5 L1177.2,1412.2 L1180.9,1413.8 L1184.7,1415.1 L1188.5,1416.3 L1192.4,1417.4 L1196.3,1418.4 L1200.2,1419.2 L1204.1,1420.0 L1208.1,1420.6 L1212.0,1421.2 L1216.0,1421.7 L1219.9,1422.2 L1223.9,1422.7 L1227.9,1423.1 L1231.9,1423.5 L1235.8,1424.0 L1239.8,1424.4 L1243.8,1424.7 L1247.8,1425.1 L1251.8,1425.4 L1255.8,1425.8 L1259.8,1426.0 L1263.8,1426.3 L1267.8,1426.5 L1271.8,1426.7 L1275.8,1426.9 L1279.8,1427.0 L1283.8,1427.1 L1287.8,1427.1 L1291.8,1427.1 L1295.8,1427.1 L1299.8,1427.1 L1303.8,1427.0 L1307.8,1426.9 L1311.8,1426.8 L1315.8,1426.7 L1319.8,1426.6 L1323.8,1426.5 L1327.8,1426.4 L1331.8,1426.3 L1335.8,1426.2 L1339.8,1426.1 L1343.8,1426.0 L1347.8,1425.9 L1351.8,1425.8 L1355.8,1425.7 L1359.8,1425.6 L1363.8,1425.5 L1367.8,1425.4 L1371.8,1425.4 L1375.8,1425.3 L1379.8,1425.2 L1383.8,1425.2 L1387.8,1425.1 L1391.8,1425.1 L1395.8,1425.0 L1399.8,1425.0 L1403.8,1424.9 L1407.8,1424.8 L1411.8,1424.7 L1415.8,1424.6 L1419.8,1424.5 L1423.8,1424.4 L1427.8,1424.3 L1431.8,1424.2 L1435.8,1424.1 L1439.8,1424.0 L1443.8,1423.9 L1447.8,1423.8 L1451.8,1423.7 L1455.8,1423.6 L1459.8,1423.5 L1463.8,1423.4 L1467.8,1423.3 L1471.8,1423.2 L1475.8,1423.1 L1479.8,1423.0 L1483.8,1422.9 L1487.8,1422.8 L1491.8,1422.7 L1495.8,1422.6 L1499.8,1422.5 L1503.8,1422.4 L1507.8,1422.3 L1511.8,1422.3 L1515.8,1422.2 L1519.8,1422.1 L1523.8,1422.1 L1527.8,1422.0 L1531.8,1422.0 L1535.8,1421.9 L1539.8,1421.9 L1543.8,1421.9 L1547.8,1421.8 L1551.8,1421.8 L1555.8,1421.8 L1559.8,1421.8 L1563.8,1421.8 L1567.8,1421.8 L1571.8,1421.9 L1575.8,1422.0 L1579.7,1422.0 L1583.7,1422.2 L1587.7,1422.3 L1591.7,1422.4 L1595.7,1422.5 L1599.7,1422.7 L1603.7,1422.8 L1607.7,1422.9 L1611.7,1423.1 L1615.7,1423.2 L1619.7,1423.4 L1623.7,1423.5 L1627.7,1423.7 L1631.7,1423.9 L1635.7,1424.0 L1639.7,1424.2 L1643.7,1424.4 L1647.7,1424.6 L1651.7,1424.8 L1655.7,1424.9 L1659.7,1425.1 L1663.7,1425.3 L1667.7,1425.4 L1671.7,1425.5 L1675.7,1425.7 L1679.7,1425.8 L1683.7,1425.9 L1687.7,1426.1 L1691.7,1426.2 L1695.7,1426.4 L1699.7,1426.5 L1703.7,1426.6 L1707.7,1426.7 L1711.7,1426.8 L1715.7,1426.9 L1719.7,1427.0 L1723.7,1427.1 L1727.7,1427.1 L1731.7,1427.2 L1735.7,1427.3 L1739.7,1427.3 L1743.7,1427.4 L1747.7,1427.4 L1751.7,1427.4 L1755.7,1427.5 L1759.7,1427.5 L1763.7,1427.5 L1767.7,1427.6 L1771.7,1427.6 L1775.7,1427.6 L1779.7,1427.6 L1783.7,1427.6 L1787.7,1427.6 L1791.7,1427.6 L1795.7,1427.6 L1799.7,1427.6 L1803.7,1427.6 L1807.7,1427.6 L1811.7,1427.6 L1815.7,1427.6 L1819.7,1427.6 L1823.7,1427.6 L1827.7,1427.6 L1831.7,1427.6 L1835.7,1427.6 L1839.7,1427.6 L1843.7,1427.6 L1847.7,1427.6 L1851.7,1427.6 L1855.7,1427.6 L1859.7,1427.6 L1863.7,1427.6 L1867.7,1427.6 L1871.7,1427.6 L1875.7,1427.6 L1879.7,1427.6 L1883.7,1427.6 L1887.7,1427.6 L1891.7,1427.5 L1895.7,1427.5 L1899.7,1427.5 L1903.7,1427.5 L1907.7,1427.5 L1911.7,1427.5 L1915.7,1427.5 L1919.7,1427.5 L1923.7,1427.5 L1927.7,1427.5 L1931.7,1427.5 L1935.7,1427.4 L1939.7,1427.4 L1943.7,1427.4 L1947.7,1427.4 L1951.7,1427.4 L1955.7,1427.4 L1959.7,1427.4 L1963.7,1427.3 L1967.7,1427.3 L1971.7,1427.3 L1975.7,1427.3 L1979.7,1427.3 L1983.7,1427.3 L1987.7,1427.2 L1991.7,1427.2 L1995.7,1427.2 L1999.7,1427.2 L2003.7,1427.2 L2007.7,1427.2 L2011.7,1427.1 L2015.7,1427.1 L2019.7,1427.1 L2023.7,1427.1 L2027.7,1427.1 L2031.7,1427.1 L2035.7,1427.0 L2039.7,1427.0 L2043.7,1427.0 L2047.7,1427.0 L2051.7,1427.0 L2055.7,1427.0 L2059.7,1427.0 L2063.7,1426.9 L2067.7,1426.9 L2071.7,1426.9 L2075.7,1426.9 L2079.7,1426.9 L2083.7,1426.9" fill="none" stroke="#2e3d88" stroke-width="14.2" stroke-linejoin="round" stroke-linecap="butt" />
<path d="M332.4,1214.3 L335.9,1216.3 L339.3,1218.3 L342.8,1220.3 L346.4,1222.2 L349.9,1224.1 L353.5,1225.9 L357.1,1227.4 L360.9,1228.7 L364.7,1229.6 L368.6,1230.3 L372.6,1230.9 L376.5,1231.6 L380.3,1232.5 L384.0,1233.8 L387.6,1235.3 L391.1,1237.2 L394.6,1239.3 L398.0,1241.4 L401.5,1243.6 L404.8,1245.8 L408.2,1248.1 L411.5,1250.3 L414.9,1252.5 L418.3,1254.6 L421.7,1256.6 L425.3,1258.3 L428.9,1260.0 L432.6,1261.4 L436.3,1262.9 L440.1,1264.2 L443.9,1265.6 L447.6,1267.0 L451.4,1268.4 L455.2,1269.8 L458.9,1271.1 L462.7,1272.3 L466.6,1273.4 L470.5,1274.3 L474.4,1275.0 L478.3,1275.4 L482.3,1275.5 L486.2,1275.2 L490.1,1274.6 L494.0,1273.8 L497.9,1272.9 L501.9,1271.9 L505.8,1271.1 L509.7,1270.2 L513.6,1269.4 L517.6,1268.7 L521.5,1267.8 L525.4,1266.9 L529.3,1265.9 L533.1,1264.7 L536.9,1263.4 L540.6,1262.0 L544.2,1260.4 L547.7,1258.5 L551.1,1256.4 L554.3,1254.1 L557.4,1251.6 L560.4,1248.9 L563.3,1246.0 L566.0,1243.1 L568.6,1240.1 L571.1,1237.1 L573.5,1233.9 L575.9,1230.6 L578.1,1227.3 L580.3,1223.9 L582.4,1220.4 L584.4,1217.0 L586.4,1213.5 L588.4,1210.0 L590.3,1206.5 L592.1,1202.9 L593.9,1199.4 L595.7,1195.8 L597.4,1192.2 L599.1,1188.5 L600.7,1184.9 L602.4,1181.2 L604.0,1177.6 L605.6,1173.9 L607.2,1170.2 L608.8,1166.6 L610.4,1162.9 L612.0,1159.2 L613.6,1155.6 L615.2,1151.9 L616.8,1148.2 L618.3,1144.5 L619.9,1140.8 L621.4,1137.1 L622.9,1133.4 L624.4,1129.7 L625.9,1126.0 L627.3,1122.3 L628.8,1118.5 L630.2,1114.8 L631.6,1111.0 L632.9,1107.3 L634.3,1103.5 L635.6,1099.7 L636.9,1095.9 L638.2,1092.2 L639.4,1088.4 L640.7,1084.6 L642.0,1080.8 L643.2,1077.0 L644.4,1073.1 L645.6,1069.3 L646.7,1065.5 L647.9,1061.7 L649.0,1057.8 L650.1,1054.0 L651.2,1050.2 L652.3,1046.3 L653.4,1042.5 L654.4,1038.6 L655.5,1034.7 L656.5,1030.9 L657.6,1027.0 L658.6,1023.2 L659.7,1019.3 L660.7,1015.4 L661.7,1011.6 L662.7,1007.7 L663.7,1003.8 L664.7,999.9 L665.7,996.0 L666.7,992.2 L667.6,988.3 L668.6,984.4 L669.6,980.5 L670.5,976.6 L671.5,972.7 L672.4,968.8 L673.4,965.0 L674.3,961.1 L675.2,957.2 L676.2,953.3 L677.1,949.4 L678.0,945.5 L678.9,941.6 L679.8,937.7 L680.7,933.8 L681.6,929.9 L682.5,926.0 L683.3,922.1 L684.2,918.2 L685.1,914.3 L685.9,910.4 L686.8,906.5 L687.6,902.6 L688.4,898.7 L689.3,894.8 L690.1,890.8 L690.9,886.9 L691.8,883.0 L692.6,879.1 L693.4,875.2 L694.2,871.3 L695.0,867.3 L695.8,863.4 L696.7,859.5 L697.5,855.6 L698.3,851.7 L699.1,847.8 L700.0,843.9 L700.8,839.9 L701.6,836.0 L702.4,832.1 L703.2,828.2 L704.1,824.3 L704.9,820.4 L705.7,816.4 L706.5,812.5 L707.3,808.6 L708.1,804.7 L708.9,800.8 L709.8,796.9 L710.6,792.9 L711.4,789.0 L712.2,785.1 L713.0,781.2 L713.8,777.3 L714.6,773.4 L715.4,769.4 L716.2,765.5 L717.0,761.6 L717.9,757.7 L718.7,753.8 L719.5,749.9 L720.3,745.9 L721.1,742.0 L721.9,738.1 L722.7,734.2 L723.6,730.3 L724.4,726.4 L725.2,722.4 L726.0,718.5 L726.8,714.6 L727.7,710.7 L728.5,706.8 L729.3,702.9 L730.1,699.0 L730.9,695.0 L731.7,691.1 L732.6,687.2 L733.4,683.3 L734.2,679.4 L735.0,675.5 L735.8,671.5 L736.7,667.6 L737.5,663.7 L738.3,659.8 L739.1,655.9 L739.9,652.0 L740.8,648.1 L741.6,644.1 L742.4,640.2 L743.2,636.3 L744.0,632.4 L744.8,628.5 L745.7,624.6 L746.5,620.6 L747.3,616.7 L748.1,612.8 L748.9,608.9 L749.7,605.0 L750.6,601.1 L751.4,597.2 L752.2,593.2 L753.0,589.3 L753.8,585.4 L754.6,581.5 L755.4,577.6 L756.2,573.7 L757.1,569.7 L757.9,565.8 L758.7,561.9 L759.5,558.0 L760.3,554.1 L761.1,550.1 L761.9,546.2 L762.7,542.3 L763.5,538.4 L764.3,534.5 L765.1,530.6 L765.9,526.6 L766.7,522.7 L767.5,518.8 L768.3,514.9 L769.1,511.0 L769.9,507.0 L770.7,503.1 L771.5,499.2 L772.3,495.3 L773.1,491.4 L773.9,487.4 L774.7,483.5 L775.4,479.6 L776.2,475.7 L777.0,471.7 L777.8,467.8 L778.6,463.9 L779.4,460.0 L780.1,456.1 L780.9,452.1 L781.7,448.2 L782.5,444.3 L783.2,440.4 L784.0,436.4 L784.8,432.5 L785.5,428.6 L786.3,424.7 L787.1,420.7 L787.8,416.8 L788.6,412.9 L789.3,408.9 L790.1,405.0 L790.9,401.1 L791.6,397.2 L792.4,393.2 L793.2,389.3 L793.9,385.4 L794.7,381.5 L795.4,377.5 L796.2,373.6 L797.0,369.7 L797.7,365.7 L798.5,361.8 L799.2,357.9 L800.0,354.0 L800.7,350.0 L801.5,346.1 L802.3,342.2 L803.0,338.3 L803.8,334.3 L804.6,330.4 L805.3,326.5 L806.1,322.6 L806.9,318.6 L807.7,314.7 L808.4,310.8 L809.2,306.9 L810.0,302.9 L810.8,299.0 L811.6,295.1 L812.4,291.2 L813.1,287.3 L813.9,283.3 L814.7,279.4 L815.5,275.5 L816.3,271.6 L817.1,267.7 L817.9,263.7 L818.8,259.8 L819.6,255.9 L820.4,252.0 L821.2,248.1 L822.0,244.2 L822.9,240.2 L823.7,236.3 L824.5,232.4 L825.4,228.5 L826.2,224.6 L827.1,220.7 L828.0,216.8 L828.8,212.9 L829.7,209.0 L830.6,205.1 L831.5,201.2 L832.4,197.3 L833.3,193.4 L834.3,189.5 L835.2,185.6 L836.2,181.7 L837.1,177.9 L838.1,174.0 L839.1,170.1 L840.1,166.2 L841.1,162.4 L842.1,158.5 L843.2,154.6 L844.3,150.8 L845.3,146.9 L846.4,143.1 L847.6,139.2 L848.7,135.4 L849.8,131.6 L850.9,127.7 L852.1,123.9 L853.2,120.1 L854.3,116.2 L855.5,112.4 L856.6,108.6 L857.8,104.7 L859.0,100.9 L860.1,97.1 L861.3,93.3 L862.5,89.4 L863.8,85.6 L865.0,81.8 L866.2,78.0 L867.5,74.2 L868.8,70.4 L870.2,66.6 L871.7,63.0 L873.3,59.3 L875.1,55.8 L877.2,52.4 L879.4,49.1 L881.8,45.9 L884.4,42.9 L887.2,40.1 L890.2,37.7 L893.6,35.8 L897.1,34.6 L900.8,34.2 L904.5,34.7 L908.0,36.0 L911.3,38.0 L914.4,40.5 L917.2,43.3 L919.8,46.3 L922.2,49.5 L924.3,52.8 L926.4,56.2 L928.3,59.8 L930.1,63.3 L931.8,66.9 L933.5,70.6 L935.1,74.2 L936.6,77.9 L938.1,81.7 L939.4,85.4 L940.7,89.2 L941.9,93.0 L943.0,96.9 L944.1,100.7 L945.2,104.6 L946.3,108.4 L947.4,112.3 L948.5,116.1 L949.7,119.9 L950.8,123.8 L951.9,127.6 L953.0,131.5 L954.1,135.3 L955.2,139.2 L956.3,143.0 L957.4,146.8 L958.5,150.7 L959.6,154.5 L960.7,158.4 L961.8,162.2 L962.9,166.1 L964.0,169.9 L965.1,173.8 L966.1,177.6 L967.2,181.5 L968.3,185.3 L969.3,189.2 L970.4,193.1 L971.4,196.9 L972.5,200.8 L973.5,204.6 L974.5,208.5 L975.5,212.4 L976.5,216.3 L977.5,220.1 L978.5,224.0 L979.5,227.9 L980.5,231.8 L981.4,235.7 L982.4,239.5 L983.3,243.4 L984.2,247.3 L985.1,251.2 L986.0,255.1 L986.9,259.0 L987.8,262.9 L988.7,266.8 L989.5,270.7 L990.3,274.6 L991.1,278.6 L991.9,282.5 L992.7,286.4 L993.5,290.3 L994.3,294.3 L995.0,298.2 L995.8,302.1 L996.5,306.0 L997.3,310.0 L998.0,313.9 L998.7,317.8 L999.4,321.8 L1000.1,325.7 L1000.8,329.6 L1001.5,333.6 L1002.2,337.5 L1002.9,341.5 L1003.6,345.4 L1004.3,349.4 L1004.9,353.3 L1005.6,357.2 L1006.3,361.2 L1006.9,365.1 L1007.6,369.1 L1008.2,373.0 L1008.8,377.0 L1009.5,380.9 L1010.1,384.9 L1010.7,388.8 L1011.3,392.8 L1011.9,396.7 L1012.5,400.7 L1013.1,404.7 L1013.7,408.6 L1014.3,412.6 L1014.9,416.5 L1015.4,420.5 L1016.0,424.4 L1016.6,428.4 L1017.1,432.4 L1017.7,436.3 L1018.2,440.3 L1018.8,444.2 L1019.3,448.2 L1019.9,452.2 L1020.4,456.1 L1021.0,460.1 L1021.5,464.1 L1022.0,468.0 L1022.6,472.0 L1023.1,476.0 L1023.6,479.9 L1024.1,483.9 L1024.6,487.9 L1025.1,491.8 L1025.7,495.8 L1026.2,499.8 L1026.7,503.7 L1027.2,507.7 L1027.7,511.7 L1028.2,515.6 L1028.7,519.6 L1029.2,523.6 L1029.7,527.5 L1030.2,531.5 L1030.7,535.5 L1031.1,539.4 L1031.6,543.4 L1032.1,547.4 L1032.6,551.4 L1033.1,555.3 L1033.6,559.3 L1034.0,563.3 L1034.5,567.2 L1035.0,571.2 L1035.5,575.2 L1035.9,579.2 L1036.4,583.1 L1036.9,587.1 L1037.4,591.1 L1037.8,595.0 L1038.3,599.0 L1038.8,603.0 L1039.2,607.0 L1039.7,610.9 L1040.1,614.9 L1040.6,618.9 L1041.1,622.9 L1041.5,626.8 L1042.0,630.8 L1042.4,634.8 L1042.9,638.8 L1043.4,642.7 L1043.8,646.7 L1044.3,650.7 L1044.7,654.6 L1045.2,658.6 L1045.6,662.6 L1046.1,666.6 L1046.5,670.5 L1046.9,674.5 L1047.4,678.5 L1047.8,682.5 L1048.3,686.4 L1048.7,690.4 L1049.2,694.4 L1049.6,698.4 L1050.0,702.4 L1050.5,706.3 L1050.9,710.3 L1051.4,714.3 L1051.8,718.3 L1052.2,722.2 L1052.7,726.2 L1053.1,730.2 L1053.5,734.2 L1054.0,738.1 L1054.4,742.1 L1054.8,746.1 L1055.3,750.1 L1055.7,754.0 L1056.2,758.0 L1056.6,762.0 L1057.0,766.0 L1057.5,769.9 L1057.9,773.9 L1058.3,777.9 L1058.7,781.9 L1059.2,785.9 L1059.6,789.8 L1060.0,793.8 L1060.5,797.8 L1060.9,801.8 L1061.3,805.7 L1061.8,809.7 L1062.2,813.7 L1062.6,817.7 L1063.1,821.6 L1063.5,825.6 L1063.9,829.6 L1064.4,833.6 L1064.8,837.5 L1065.2,841.5 L1065.7,845.5 L1066.1,849.5 L1066.5,853.5 L1067.0,857.4 L1067.4,861.4 L1067.8,865.4 L1068.2,869.4 L1068.7,873.3 L1069.1,877.3 L1069.5,881.3 L1070.0,885.3 L1070.4,889.2 L1070.8,893.2 L1071.3,897.2 L1071.7,901.2 L1072.1,905.2 L1072.6,909.1 L1073.0,913.1 L1073.4,917.1 L1073.9,921.1 L1074.3,925.0 L1074.8,929.0 L1075.2,933.0 L1075.7,937.0 L1076.1,940.9 L1076.6,944.9 L1077.0,948.9 L1077.5,952.9 L1078.0,956.8 L1078.4,960.8 L1078.9,964.8 L1079.4,968.7 L1079.8,972.7 L1080.3,976.7 L1080.8,980.7 L1081.2,984.6 L1081.7,988.6 L1082.2,992.6 L1082.7,996.5 L1083.2,1000.5 L1083.7,1004.5 L1084.1,1008.5 L1084.6,1012.4 L1085.1,1016.4 L1085.6,1020.4 L1086.1,1024.3 L1086.6,1028.3 L1087.1,1032.3 L1087.6,1036.2 L1088.1,1040.2 L1088.6,1044.2 L1089.1,1048.1 L1089.7,1052.1 L1090.2,1056.1 L1090.7,1060.0 L1091.2,1064.0 L1091.8,1068.0 L1092.3,1071.9 L1092.8,1075.9 L1093.4,1079.9 L1093.9,1083.8 L1094.5,1087.8 L1095.0,1091.7 L1095.6,1095.7 L1096.2,1099.7 L1096.8,1103.6 L1097.4,1107.6 L1098.0,1111.5 L1098.6,1115.5 L1099.2,1119.4 L1099.8,1123.4 L1100.4,1127.3 L1101.0,1131.3 L1101.7,1135.2 L1102.3,1139.2 L1103.0,1143.1 L1103.6,1147.1 L1104.3,1151.0 L1105.0,1155.0 L1105.6,1158.9 L1106.3,1162.9 L1107.0,1166.8 L1107.7,1170.7 L1108.4,1174.7 L1109.1,1178.6 L1109.9,1182.5 L1110.6,1186.5 L1111.3,1190.4 L1112.1,1194.3 L1112.9,1198.3 L1113.6,1202.2 L1114.4,1206.1 L1115.2,1210.0 L1116.0,1213.9 L1116.8,1217.9 L1117.6,1221.8 L1118.5,1225.7 L1119.3,1229.6 L1120.1,1233.5 L1121.0,1237.4 L1121.9,1241.3 L1122.7,1245.2 L1123.6,1249.1 L1124.5,1253.1 L1125.4,1257.0 L1126.3,1260.9 L1127.3,1264.7 L1128.3,1268.6 L1129.3,1272.5 L1130.3,1276.3 L1131.4,1280.2 L1132.5,1284.0 L1133.7,1287.8 L1134.9,1291.6 L1136.2,1295.4 L1137.5,1299.2 L1138.9,1303.0 L1140.3,1306.7 L1141.7,1310.5 L1143.2,1314.2 L1144.7,1317.9 L1146.3,1321.5 L1147.9,1325.2 L1149.6,1328.9 L1151.4,1332.5 L1153.2,1336.0 L1155.1,1339.5 L1157.1,1343.0 L1159.2,1346.4 L1161.4,1349.7 L1163.7,1353.0 L1166.1,1356.2 L1168.6,1359.3 L1171.3,1362.3 L1174.1,1365.2 L1177.0,1368.0 L1180.0,1370.6 L1183.2,1373.0 L1186.5,1375.1 L1190.0,1377.0 L1193.6,1378.6 L1197.4,1379.9 L1201.3,1380.9 L1205.2,1381.6 L1209.1,1382.1 L1213.1,1382.3 L1217.1,1382.3 L1221.1,1382.2 L1225.1,1381.9 L1229.0,1381.4 L1233.0,1380.7 L1236.9,1380.0 L1240.8,1379.1 L1244.7,1378.1 L1248.5,1376.9 L1252.3,1375.7 L1256.1,1374.3 L1259.8,1372.9 L1263.5,1371.4 L1267.1,1369.7 L1270.7,1368.0 L1274.3,1366.2 L1277.8,1364.3 L1281.3,1362.3 L1284.9,1360.4 L1288.3,1358.4 L1291.8,1356.4 L1295.3,1354.4 L1298.7,1352.4 L1302.1,1350.3 L1305.5,1348.2 L1308.9,1346.1 L1312.4,1344.0 L1315.8,1341.9 L1319.2,1339.8 L1322.6,1337.8 L1326.0,1335.7 L1329.4,1333.6 L1332.8,1331.5 L1336.2,1329.4 L1339.7,1327.3 L1343.1,1325.2 L1346.5,1323.1 L1349.9,1321.0 L1353.3,1318.9 L1356.7,1316.8 L1360.1,1314.7 L1363.5,1312.6 L1366.9,1310.5 L1370.3,1308.4 L1373.7,1306.3 L1377.1,1304.2 L1380.5,1302.1 L1383.9,1300.0 L1387.3,1297.8 L1390.7,1295.7 L1394.1,1293.6 L1397.4,1291.5 L1400.8,1289.3 L1404.2,1287.2 L1407.6,1285.0 L1410.9,1282.9 L1414.3,1280.7 L1417.6,1278.5 L1421.0,1276.3 L1424.3,1274.1 L1427.6,1271.8 L1430.9,1269.6 L1434.2,1267.3 L1437.5,1265.0 L1440.8,1262.7 L1444.0,1260.4 L1447.3,1258.1 L1450.5,1255.7 L1453.7,1253.4 L1457.0,1251.0 L1460.2,1248.6 L1463.4,1246.3 L1466.6,1243.9 L1469.8,1241.5 L1473.1,1239.1 L1476.3,1236.8 L1479.5,1234.4 L1482.8,1232.1 L1486.0,1229.7 L1489.2,1227.3 L1492.4,1224.9 L1495.6,1222.5 L1498.9,1220.1 L1502.1,1217.8 L1505.3,1215.4 L1508.6,1213.1 L1511.9,1210.8 L1515.2,1208.6 L1518.6,1206.5 L1522.0,1204.3 L1525.4,1202.2 L1528.9,1200.2 L1532.4,1198.2 L1535.9,1196.4 L1539.6,1194.9 L1543.3,1193.5 L1547.1,1192.3 L1550.9,1191.3 L1554.8,1190.5 L1558.8,1189.8 L1562.8,1189.3 L1566.7,1188.9 L1570.7,1188.7 L1574.7,1188.7 L1578.7,1189.0 L1582.6,1189.6 L1586.5,1190.5 L1590.4,1191.6 L1594.1,1192.9 L1597.8,1194.4 L1601.4,1196.1 L1604.8,1198.1 L1608.3,1200.2 L1611.6,1202.5 L1614.8,1204.9 L1617.9,1207.3 L1621.0,1209.8 L1624.0,1212.4 L1626.9,1215.2 L1629.8,1217.9 L1632.7,1220.8 L1635.5,1223.7 L1638.3,1226.6 L1641.1,1229.5 L1643.9,1232.4 L1646.6,1235.3 L1649.4,1238.2 L1652.2,1241.1 L1654.9,1244.0 L1657.6,1246.9 L1660.3,1249.8 L1663.0,1252.8 L1665.7,1255.8 L1668.4,1258.7 L1671.1,1261.7 L1673.7,1264.7 L1676.4,1267.7 L1679.1,1270.7 L1681.7,1273.7 L1684.4,1276.7 L1687.0,1279.7 L1689.6,1282.7 L1692.2,1285.7 L1694.9,1288.7 L1697.5,1291.7 L1700.1,1294.8 L1702.8,1297.8 L1705.4,1300.8 L1708.0,1303.8 L1710.7,1306.8 L1713.4,1309.8 L1716.0,1312.8 L1718.7,1315.7 L1721.3,1318.7 L1724.0,1321.7 L1726.7,1324.7 L1729.4,1327.6 L1732.1,1330.5 L1734.9,1333.5 L1737.6,1336.3 L1740.4,1339.2 L1743.2,1342.1 L1746.1,1344.9 L1748.9,1347.7 L1751.8,1350.5 L1754.6,1353.3 L1757.6,1356.0 L1760.5,1358.8 L1763.5,1361.4 L1766.5,1364.1 L1769.5,1366.7 L1772.5,1369.3 L1775.6,1371.8 L1778.8,1374.3 L1781.9,1376.7 L1785.1,1379.1 L1788.4,1381.5 L1791.7,1383.7 L1795.0,1386.0 L1798.4,1388.1 L1801.8,1390.2 L1805.3,1392.2 L1808.8,1394.1 L1812.3,1395.9 L1815.9,1397.6 L1819.6,1399.3 L1823.3,1400.8 L1827.0,1402.3 L1830.8,1403.7 L1834.6,1405.0 L1838.4,1406.2 L1842.2,1407.2 L1846.1,1408.1 L1850.0,1409.0 L1853.9,1409.7 L1857.8,1410.5 L1861.8,1411.2 L1865.7,1412.0 L1869.7,1412.8 L1873.6,1413.7 L1877.5,1414.6 L1881.4,1415.5 L1885.3,1416.5 L1889.2,1417.3 L1893.1,1418.1 L1897.0,1418.8 L1900.9,1419.4 L1904.9,1419.9 L1908.9,1420.4 L1912.9,1420.8 L1916.8,1421.2 L1920.8,1421.5 L1924.8,1421.9 L1928.8,1422.2 L1932.8,1422.5 L1936.8,1422.8 L1940.8,1423.1 L1944.8,1423.3 L1948.8,1423.5 L1952.8,1423.7 L1956.7,1423.9 L1960.7,1424.1 L1964.7,1424.2 L1968.7,1424.4 L1972.7,1424.6 L1976.7,1424.8 L1980.7,1424.9 L1984.7,1425.1 L1988.7,1425.3 L1992.7,1425.4 L1996.7,1425.5 L2000.7,1425.6 L2004.7,1425.7 L2008.7,1425.8 L2012.7,1425.9 L2016.7,1426.0 L2020.7,1426.1 L2024.7,1426.2 L2028.7,1426.2 L2032.7,1426.3 L2036.7,1426.4 L2040.7,1426.4 L2044.7,1426.5 L2048.7,1426.5 L2052.7,1426.6 L2056.7,1426.6 L2060.7,1426.7 L2064.7,1426.7 L2068.7,1426.7 L2072.7,1426.8 L2076.7,1426.8 L2080.7,1426.8 L2084.7,1426.8" fill="none" stroke="#03786f" stroke-width="14.2" stroke-linejoin="round" stroke-linecap="butt" />
<path d="M332.4,1402.4 L336.4,1402.4 L340.4,1402.3 L344.4,1402.3 L348.4,1402.2 L352.4,1402.2 L356.4,1402.1 L360.4,1402.1 L364.4,1402.0 L368.4,1402.0 L372.4,1401.9 L376.4,1401.9 L380.4,1401.8 L384.4,1401.8 L388.4,1401.7 L392.4,1401.6 L396.4,1401.5 L400.4,1401.5 L404.4,1401.4 L408.4,1401.3 L412.4,1401.2 L416.4,1401.1 L420.4,1401.1 L424.4,1401.0 L428.4,1400.9 L432.4,1400.9 L436.4,1400.9 L440.4,1400.9 L444.4,1401.0 L448.4,1401.2 L452.4,1401.5 L456.3,1401.8 L460.3,1402.0 L464.3,1402.3 L468.3,1402.4 L472.3,1402.5 L476.3,1402.5 L480.3,1402.6 L484.3,1402.6 L488.3,1402.6 L492.3,1402.6 L496.3,1402.6 L500.3,1402.7 L504.3,1402.7 L508.3,1402.7 L512.3,1402.7 L516.3,1402.7 L520.3,1402.8 L524.3,1402.8 L528.3,1402.8 L532.3,1402.9 L536.3,1403.0 L540.3,1403.0 L544.3,1403.1 L548.3,1403.2 L552.3,1403.2 L556.3,1403.3 L560.3,1403.3 L564.3,1403.3 L568.3,1403.3 L572.3,1403.2 L576.3,1403.0 L580.3,1402.8 L584.3,1402.5 L588.3,1402.1 L592.3,1401.7 L596.3,1401.2 L600.2,1400.7 L604.2,1400.2 L608.1,1399.6 L612.1,1399.0 L616.0,1398.3 L620.0,1397.6 L623.9,1396.7 L627.8,1395.8 L631.6,1394.9 L635.5,1393.8 L639.4,1392.8 L643.2,1391.6 L647.0,1390.5 L650.8,1389.2 L654.6,1388.0 L658.4,1386.6 L662.2,1385.2 L665.9,1383.7 L669.5,1382.1 L673.1,1380.3 L676.5,1378.4 L680.0,1376.3 L683.4,1374.2 L686.7,1372.0 L690.0,1369.7 L693.2,1367.3 L696.4,1364.9 L699.6,1362.5 L702.7,1360.0 L705.8,1357.4 L708.8,1354.8 L711.9,1352.2 L714.9,1349.6 L717.9,1346.9 L720.8,1344.2 L723.7,1341.5 L726.6,1338.7 L729.5,1335.9 L732.4,1333.2 L735.3,1330.4 L738.1,1327.6 L741.0,1324.8 L743.8,1321.9 L746.6,1319.1 L749.4,1316.2 L752.2,1313.4 L755.0,1310.5 L757.8,1307.6 L760.5,1304.7 L763.3,1301.8 L766.1,1298.9 L768.8,1296.0 L771.5,1293.1 L774.3,1290.2 L777.0,1287.3 L779.7,1284.4 L782.5,1281.4 L785.2,1278.5 L787.9,1275.6 L790.6,1272.6 L793.3,1269.7 L796.1,1266.8 L798.8,1263.8 L801.5,1260.9 L804.2,1257.9 L806.9,1255.0 L809.6,1252.0 L812.2,1249.0 L814.9,1246.1 L817.6,1243.1 L820.3,1240.1 L822.9,1237.1 L825.6,1234.1 L828.3,1231.2 L830.9,1228.2 L833.6,1225.2 L836.2,1222.2 L838.8,1219.2 L841.5,1216.1 L844.1,1213.1 L846.7,1210.1 L849.3,1207.1 L852.0,1204.0 L854.5,1201.0 L857.1,1197.9 L859.7,1194.9 L862.3,1191.8 L864.8,1188.7 L867.2,1185.5 L869.7,1182.3 L872.1,1179.1 L874.5,1175.8 L877.0,1172.6 L879.5,1169.6 L882.1,1166.6 L884.8,1163.7 L887.7,1161.0 L890.8,1158.4 L893.9,1155.9 L897.2,1153.6 L900.6,1151.5 L904.1,1149.7 L907.8,1148.2 L911.5,1146.9 L915.3,1145.8 L919.2,1144.8 L923.2,1144.0 L927.1,1143.4 L931.1,1142.9 L935.1,1142.6 L939.1,1142.4 L943.1,1142.5 L947.0,1142.6 L951.0,1142.8 L955.0,1143.0 L959.0,1143.2 L963.0,1143.4 L967.0,1143.6 L971.1,1143.8 L975.1,1143.9 L979.1,1144.0 L983.1,1144.2 L987.0,1144.5 L991.0,1145.0 L995.0,1145.8 L998.9,1146.8 L1002.6,1148.1 L1006.2,1149.6 L1009.6,1151.5 L1012.8,1153.6 L1015.8,1156.1 L1018.7,1158.9 L1021.4,1161.9 L1024.0,1165.1 L1026.5,1168.3 L1028.9,1171.6 L1031.2,1174.9 L1033.3,1178.3 L1035.4,1181.7 L1037.4,1185.1 L1039.4,1188.6 L1041.2,1192.2 L1043.1,1195.8 L1044.9,1199.4 L1046.6,1203.0 L1048.4,1206.6 L1050.1,1210.2 L1051.7,1213.9 L1053.4,1217.5 L1055.0,1221.2 L1056.6,1224.9 L1058.1,1228.6 L1059.6,1232.3 L1061.1,1236.0 L1062.6,1239.7 L1064.0,1243.4 L1065.4,1247.2 L1066.8,1250.9 L1068.2,1254.7 L1069.5,1258.5 L1070.8,1262.2 L1072.1,1266.0 L1073.4,1269.8 L1074.7,1273.6 L1075.9,1277.4 L1077.2,1281.2 L1078.5,1285.0 L1079.8,1288.8 L1081.1,1292.6 L1082.3,1296.4 L1083.6,1300.2 L1084.9,1303.9 L1086.2,1307.7 L1087.5,1311.5 L1088.9,1315.3 L1090.3,1319.0 L1091.7,1322.7 L1093.1,1326.5 L1094.6,1330.2 L1096.1,1333.9 L1097.7,1337.6 L1099.2,1341.3 L1100.8,1344.9 L1102.5,1348.6 L1104.2,1352.2 L1106.0,1355.8 L1107.8,1359.4 L1109.7,1362.9 L1111.6,1366.4 L1113.5,1369.9 L1115.5,1373.4 L1117.6,1376.8 L1119.7,1380.2 L1122.0,1383.5 L1124.3,1386.7 L1126.8,1389.8 L1129.4,1392.8 L1132.2,1395.7 L1135.1,1398.5 L1138.0,1401.2 L1141.0,1403.9 L1144.1,1406.5 L1147.2,1408.9 L1150.5,1411.1 L1153.9,1413.2 L1157.4,1415.0 L1161.1,1416.7 L1164.8,1418.1 L1168.6,1419.4 L1172.4,1420.6 L1176.3,1421.7 L1180.2,1422.6 L1184.1,1423.4 L1188.0,1424.0 L1192.0,1424.5 L1195.9,1424.9 L1199.9,1425.3 L1203.9,1425.6 L1207.9,1425.8 L1211.9,1426.0 L1215.9,1426.1 L1219.9,1426.3 L1223.9,1426.4 L1227.9,1426.5 L1231.9,1426.6 L1235.9,1426.7 L1239.9,1426.8 L1243.9,1426.9 L1247.9,1427.0 L1251.9,1427.1 L1255.9,1427.1 L1259.9,1427.2 L1263.9,1427.3 L1267.9,1427.3 L1271.9,1427.3 L1275.9,1427.4 L1279.9,1427.4 L1283.9,1427.4 L1287.9,1427.4 L1291.9,1427.4 L1295.9,1427.4 L1299.9,1427.4 L1303.9,1427.3 L1307.9,1427.3 L1311.9,1427.3 L1315.9,1427.3 L1319.9,1427.3 L1323.9,1427.3 L1327.9,1427.3 L1331.9,1427.3 L1335.9,1427.3 L1339.9,1427.3 L1343.9,1427.4 L1347.9,1427.4 L1351.9,1427.4 L1355.9,1427.4 L1359.9,1427.4 L1363.9,1427.5 L1367.9,1427.5 L1371.9,1427.5 L1375.9,1427.5 L1379.9,1427.5 L1383.9,1427.5 L1387.9,1427.5 L1391.9,1427.5 L1395.9,1427.5 L1399.9,1427.5 L1403.9,1427.5 L1407.9,1427.5 L1411.9,1427.4 L1415.9,1427.4 L1419.9,1427.4 L1423.9,1427.3 L1427.9,1427.3 L1431.9,1427.2 L1435.9,1427.2 L1439.9,1427.1 L1443.9,1427.1 L1447.9,1427.0 L1451.9,1426.9 L1455.9,1426.9 L1459.9,1426.8 L1463.9,1426.8 L1467.9,1426.7 L1471.9,1426.7 L1475.9,1426.6 L1479.9,1426.5 L1483.9,1426.5 L1487.9,1426.4 L1491.9,1426.3 L1495.9,1426.3 L1499.9,1426.2 L1503.9,1426.1 L1507.9,1426.1 L1511.9,1426.0 L1515.9,1425.9 L1519.9,1425.9 L1523.9,1425.8 L1527.9,1425.7 L1531.9,1425.7 L1535.9,1425.6 L1539.9,1425.5 L1543.9,1425.4 L1547.9,1425.3 L1551.9,1425.2 L1555.9,1425.2 L1559.9,1425.1 L1563.9,1425.0 L1567.9,1424.9 L1571.9,1424.9 L1575.9,1424.8 L1579.9,1424.7 L1583.9,1424.7 L1587.9,1424.6 L1591.9,1424.6 L1595.9,1424.5 L1599.9,1424.4 L1603.9,1424.3 L1607.9,1424.2 L1611.9,1424.1 L1615.9,1424.1 L1619.9,1424.0 L1623.9,1423.9 L1627.9,1423.9 L1631.9,1423.8 L1635.9,1423.8 L1639.9,1423.8 L1643.9,1423.7 L1647.9,1423.7 L1651.9,1423.7 L1655.9,1423.7 L1659.9,1423.7 L1663.9,1423.7 L1667.9,1423.7 L1671.9,1423.7 L1675.9,1423.7 L1679.9,1423.7 L1683.9,1423.7 L1687.9,1423.7 L1691.9,1423.7 L1695.9,1423.8 L1699.9,1423.8 L1703.9,1423.8 L1707.9,1423.8 L1711.9,1423.9 L1715.9,1423.9 L1719.9,1423.9 L1723.9,1424.0 L1727.9,1424.0 L1731.9,1424.1 L1735.9,1424.2 L1739.9,1424.2 L1743.9,1424.3 L1747.9,1424.4 L1751.9,1424.4 L1755.9,1424.5 L1759.9,1424.5 L1763.9,1424.6 L1767.9,1424.6 L1771.9,1424.7 L1775.9,1424.7 L1779.9,1424.7 L1783.9,1424.8 L1787.9,1424.8 L1791.9,1424.8 L1795.9,1424.9 L1799.9,1424.9 L1803.9,1425.0 L1807.9,1425.0 L1811.9,1425.0 L1815.9,1425.1 L1819.9,1425.1 L1823.9,1425.2 L1827.9,1425.2 L1831.9,1425.2 L1835.9,1425.3 L1839.9,1425.3 L1843.9,1425.4 L1847.9,1425.4 L1851.9,1425.5 L1855.9,1425.5 L1859.9,1425.5 L1863.9,1425.6 L1867.9,1425.6 L1871.9,1425.7 L1875.9,1425.7 L1879.9,1425.7 L1883.9,1425.8 L1887.9,1425.8 L1891.9,1425.9 L1895.9,1425.9 L1899.9,1425.9 L1903.9,1426.0 L1907.9,1426.0 L1911.9,1426.0 L1915.9,1426.1 L1919.9,1426.1 L1923.9,1426.1 L1927.9,1426.2 L1931.9,1426.2 L1935.9,1426.2 L1939.9,1426.2 L1943.9,1426.3 L1947.9,1426.3 L1951.9,1426.3 L1955.9,1426.4 L1959.9,1426.4 L1963.9,1426.4 L1967.9,1426.4 L1971.9,1426.4 L1975.9,1426.5 L1979.9,1426.5 L1983.9,1426.5 L1987.9,1426.5 L1991.9,1426.5 L1995.9,1426.5 L1999.9,1426.5 L2003.9,1426.5 L2007.9,1426.5 L2011.9,1426.5 L2015.9,1426.5 L2019.9,1426.5 L2023.9,1426.5 L2027.9,1426.5 L2031.9,1426.5 L2035.9,1426.5 L2039.9,1426.5 L2043.9,1426.5 L2047.9,1426.5 L2051.9,1426.5 L2055.9,1426.5 L2059.9,1426.5 L2063.9,1426.5 L2067.9,1426.5 L2071.9,1426.5 L2075.9,1426.5 L2079.9,1426.5 L2083.9,1426.5" fill="none" stroke="#7f7b78" stroke-width="14.2" stroke-linejoin="round" stroke-linecap="butt" />
</g>
<rect x="2075.80" y="21.00" width="2.50" height="1416.20" fill="#838480"/>
<rect x="331.20" y="18.30" width="5.10" height="1423.70" fill="#0a0b06"/>
<rect x="331.20" y="1437.10" width="1746.90" height="4.90" fill="#0a0b06"/>
<rect x="303.50" y="1424.40" width="28.00" height="5.20" fill="#77756f"/>
<text x="286.2" y="1441.8" font-size="58.5" text-anchor="end" >0.0</text>
<rect x="303.50" y="1132.10" width="28.00" height="5.20" fill="#0a0b06"/>
<text x="286.2" y="1149.5" font-size="58.5" text-anchor="end" >0.5</text>
<rect x="303.50" y="839.80" width="28.00" height="5.20" fill="#3a3935"/>
<text x="286.2" y="857.2" font-size="58.5" text-anchor="end" >1.0</text>
<rect x="303.50" y="547.50" width="28.00" height="5.20" fill="#0a0b06"/>
<text x="286.2" y="564.9" font-size="58.5" text-anchor="end" >1.5</text>
<rect x="303.50" y="255.20" width="28.00" height="5.20" fill="#0a0b06"/>
<text x="286.2" y="272.6" font-size="58.5" text-anchor="end" >2.0</text>
<rect x="317.00" y="1278.25" width="14.50" height="5.20" fill="#0a0b06"/>
<rect x="317.00" y="985.95" width="14.50" height="5.20" fill="#0a0b06"/>
<rect x="317.00" y="693.65" width="14.50" height="5.20" fill="#0a0b06"/>
<rect x="317.00" y="401.35" width="14.50" height="5.20" fill="#0a0b06"/>
<rect x="317.00" y="109.05" width="14.50" height="5.20" fill="#0a0b06"/>
<rect x="451.00" y="1441.50" width="5.20" height="26.90" fill="#0a0b06"/>
<text x="453.6" y="1528.6" font-size="58" text-anchor="middle" >350</text>
<rect x="653.87" y="1441.50" width="5.20" height="26.90" fill="#0a0b06"/>
<text x="656.5" y="1528.6" font-size="58" text-anchor="middle" >400</text>
<rect x="856.73" y="1441.50" width="5.20" height="26.90" fill="#0a0b06"/>
<text x="859.3" y="1528.6" font-size="58" text-anchor="middle" >450</text>
<rect x="1059.60" y="1441.50" width="5.20" height="26.90" fill="#0a0b06"/>
<text x="1062.2" y="1528.6" font-size="58" text-anchor="middle" >500</text>
<rect x="1262.46" y="1441.50" width="5.20" height="26.90" fill="#6f6e6a"/>
<text x="1265.1" y="1528.6" font-size="58" text-anchor="middle" >550</text>
<rect x="1465.33" y="1441.50" width="5.20" height="26.90" fill="#0a0b06"/>
<text x="1467.9" y="1528.6" font-size="58" text-anchor="middle" >600</text>
<rect x="1668.19" y="1441.50" width="5.20" height="26.90" fill="#0a0b06"/>
<text x="1670.8" y="1528.6" font-size="58" text-anchor="middle" >650</text>
<rect x="1871.05" y="1441.50" width="5.20" height="26.90" fill="#0a0b06"/>
<text x="1873.7" y="1528.6" font-size="58" text-anchor="middle" >700</text>
<rect x="2072.90" y="1441.50" width="5.20" height="26.90" fill="#0a0b06"/>
<text x="2076.5" y="1528.6" font-size="58" text-anchor="middle" >750</text>
<rect x="349.57" y="1441.50" width="5.20" height="13.80" fill="#0a0b06"/>
<rect x="552.43" y="1441.50" width="5.20" height="13.80" fill="#0a0b06"/>
<rect x="755.30" y="1441.50" width="5.20" height="13.80" fill="#0a0b06"/>
<rect x="958.16" y="1441.50" width="5.20" height="13.80" fill="#4a4944"/>
<rect x="1161.03" y="1441.50" width="5.20" height="13.80" fill="#0a0b06"/>
<rect x="1363.89" y="1441.50" width="5.20" height="13.80" fill="#8b8a88"/>
<rect x="1566.76" y="1441.50" width="5.20" height="13.80" fill="#0a0b06"/>
<rect x="1769.62" y="1441.50" width="5.20" height="13.80" fill="#0a0b06"/>
<rect x="1972.49" y="1441.50" width="5.20" height="13.80" fill="#0a0b06"/>
<text x="1205.5" y="1649.3" font-size="72" text-anchor="middle" >λ<tspan dx="2.5"> (nm)</tspan></text>
<text transform="translate(99.0,765.6) rotate(-90)" font-size="71.5" text-anchor="middle">Absorbance</text>
<rect x="383.00" y="65.50" width="326.00" height="461.50" fill="#fefcfb"/>
<rect x="383.00" y="64.80" width="326.00" height="2.40" fill="#8b8a88"/>
<rect x="383.00" y="525.30" width="326.00" height="4.00" fill="#c3c1bf"/>
<rect x="382.70" y="66.00" width="2.70" height="461.00" fill="#0a0b06"/>
<rect x="706.40" y="66.00" width="2.60" height="461.00" fill="#0a0b06"/>
<rect x="420.5" y="119.2" width="171.8" height="15.5" rx="3.5" fill="#0a0b06"/>
<text x="645.5" y="152.0" font-size="72" text-anchor="middle" >1</text>
<rect x="420.5" y="208.3" width="171.8" height="14.2" rx="3.5" fill="#ff4422"/>
<text x="645.5" y="239.0" font-size="72" text-anchor="middle" >2</text>
<rect x="420.5" y="295.7" width="171.8" height="14.2" rx="3.5" fill="#2e3d88"/>
<text x="645.5" y="326.0" font-size="72" text-anchor="middle" >3</text>
<rect x="420.5" y="382.8" width="171.8" height="14.2" rx="3.5" fill="#03786f"/>
<text x="645.5" y="412.5" font-size="72" text-anchor="middle" >4</text>
<rect x="420.5" y="469.9" width="171.8" height="14.2" rx="3.5" fill="#7f7b78"/>
<text x="645.5" y="500.5" font-size="72" text-anchor="middle" >5</text>
<g clip-path="url(#ci)">
<path d="M1270.0,282.0 L1271.0,278.1 L1272.0,274.3 L1273.1,270.4 L1274.1,266.5 L1275.2,262.7 L1276.3,258.8 L1277.4,255.0 L1278.5,251.2 L1279.7,247.3 L1280.9,243.5 L1282.1,239.7 L1283.3,235.9 L1284.5,232.1 L1285.8,228.3 L1287.0,224.4 L1288.2,220.6 L1289.3,216.8 L1290.5,213.0 L1291.6,209.1 L1292.6,205.3 L1293.7,201.4 L1294.7,197.5 L1295.6,193.7 L1296.5,189.8 L1297.5,185.9 L1298.4,182.0 L1299.2,178.1 L1300.1,174.2 L1301.0,170.3 L1301.9,166.4 L1302.7,162.5 L1303.6,158.6 L1304.5,154.7 L1305.4,150.8 L1306.3,146.9 L1307.2,143.0 L1308.2,139.1 L1309.2,135.2 L1310.1,131.3 L1311.1,127.4 L1312.1,123.6 L1313.1,119.7 L1314.1,115.8 L1315.1,111.9 L1316.0,108.1 L1316.9,104.2 L1317.8,100.3 L1318.6,96.4 L1319.5,92.4 L1320.2,88.5 L1321.0,84.6 L1321.8,80.7 L1322.5,76.7 L1323.3,72.8 L1324.1,68.9 L1324.9,65.0 L1325.7,61.0 L1326.5,57.1 L1327.3,53.2 L1328.1,49.3 L1328.9,45.4 L1329.7,41.5" fill="none" stroke="#0a0b06" stroke-width="12.2" stroke-linejoin="round" stroke-linecap="butt" />
<path d="M1783.7,40.0 L1783.7,44.0 L1783.8,48.0 L1783.8,52.0 L1783.9,56.0 L1784.0,60.0 L1784.1,64.0 L1784.2,68.0 L1784.3,72.0 L1784.4,76.0 L1784.6,80.0 L1784.8,84.0 L1785.1,88.0 L1785.3,92.0 L1785.6,95.9 L1785.9,99.9 L1786.3,103.9 L1786.6,107.9 L1787.0,111.9 L1787.4,115.9 L1787.8,119.9 L1788.2,123.9 L1788.6,127.8 L1789.0,131.8 L1789.4,135.8 L1789.8,139.8 L1790.2,143.8 L1790.6,147.7 L1791.1,151.7 L1791.5,155.7 L1792.0,159.6 L1792.5,163.6 L1793.0,167.6 L1793.5,171.5 L1794.0,175.5 L1794.5,179.5 L1795.1,183.4 L1795.6,187.4 L1796.2,191.4 L1796.8,195.3 L1797.3,199.3 L1797.9,203.2 L1798.5,207.2 L1799.1,211.2 L1799.6,215.1 L1800.2,219.1 L1800.8,223.1 L1801.3,227.0 L1801.9,231.0 L1802.5,234.9 L1803.0,238.9 L1803.6,242.8 L1804.2,246.8 L1804.8,250.8 L1805.4,254.7 L1806.0,258.7 L1806.6,262.6 L1807.2,266.6 L1807.8,270.5 L1808.4,274.5 L1809.0,278.4 L1809.6,282.4 L1810.2,286.4 L1810.8,290.3 L1811.4,294.3 L1812.0,298.2 L1812.6,302.2 L1813.2,306.1 L1813.8,310.1 L1814.5,314.0 L1815.1,318.0 L1815.7,321.9 L1816.3,325.9 L1816.9,329.8 L1817.5,333.8 L1818.1,337.7 L1818.8,341.7 L1819.4,345.6 L1820.1,349.6 L1820.7,353.5 L1821.3,357.5 L1822.0,361.4 L1822.6,365.4 L1823.3,369.3 L1823.9,373.3 L1824.6,377.2 L1825.2,381.2 L1825.9,385.1 L1826.6,389.1 L1827.3,393.0 L1828.0,397.0 L1828.7,400.9 L1829.4,404.8 L1830.1,408.8 L1830.8,412.7 L1831.6,416.6 L1832.4,420.5 L1833.1,424.5 L1833.9,428.4 L1834.7,432.3 L1835.5,436.2 L1836.3,440.1 L1837.2,444.0 L1838.0,448.0 L1838.9,451.9 L1839.7,455.8 L1840.6,459.7 L1841.5,463.6 L1842.4,467.5 L1843.3,471.4 L1844.3,475.3 L1845.2,479.2 L1846.2,483.1 L1847.2,486.9 L1848.2,490.8 L1849.2,494.7 L1850.2,498.5 L1851.3,502.4 L1852.3,506.2 L1853.5,510.1 L1854.6,513.9 L1855.8,517.7 L1857.0,521.5 L1858.2,525.4 L1859.4,529.2 L1860.7,532.9 L1862.0,536.7 L1863.4,540.5 L1864.7,544.3 L1866.1,548.0 L1867.5,551.8 L1869.0,555.5 L1870.4,559.2 L1872.0,562.9 L1873.5,566.6 L1875.1,570.3 L1876.7,573.9 L1878.3,577.6 L1879.9,581.2 L1881.6,584.9 L1883.3,588.5 L1885.1,592.1 L1886.8,595.7 L1888.7,599.2 L1890.5,602.8 L1892.4,606.3 L1894.3,609.8 L1896.3,613.3 L1898.2,616.8 L1900.2,620.3 L1902.3,623.7 L1904.3,627.2 L1906.4,630.6 L1908.6,633.9 L1910.8,637.3 L1913.1,640.5 L1915.5,643.7 L1918.0,646.8 L1920.6,649.9 L1923.3,652.8 L1926.0,655.7 L1928.9,658.6 L1931.8,661.3 L1934.8,664.0 L1937.8,666.6 L1940.9,669.1 L1944.2,671.4 L1947.4,673.7 L1950.8,675.8 L1954.2,677.8 L1957.8,679.7 L1961.3,681.5 L1965.0,683.3 L1968.6,684.9 L1972.3,686.6 L1975.9,688.2 L1979.6,689.7 L1983.4,691.2 L1987.1,692.5 L1990.9,693.7 L1994.7,694.8 L1998.6,695.8 L2002.5,696.7 L2006.4,697.5 L2010.4,698.3 L2014.3,698.9 L2018.3,699.6 L2022.2,700.1 L2026.2,700.6" fill="none" stroke="#0a0b06" stroke-width="12.2" stroke-linejoin="round" stroke-linecap="butt" />
<path d="M1270.0,619.0 L1274.0,618.4 L1277.9,617.9 L1281.9,617.3 L1285.9,616.7 L1289.9,616.1 L1293.8,615.5 L1297.8,614.8 L1301.7,614.0 L1305.5,613.0 L1309.3,611.9 L1313.0,610.5 L1316.7,608.9 L1320.4,607.3 L1324.1,605.7 L1327.8,604.2 L1331.5,602.8 L1335.3,601.4 L1339.0,600.0 L1342.7,598.6 L1346.4,597.1 L1350.1,595.5 L1353.7,593.8 L1357.3,592.0 L1360.9,590.2 L1364.4,588.3 L1367.8,586.2 L1371.2,584.1 L1374.5,581.9 L1377.8,579.6 L1381.1,577.4 L1384.4,575.1 L1387.8,572.9 L1391.1,570.7 L1394.5,568.6 L1397.9,566.5 L1401.3,564.3 L1404.5,562.0 L1407.7,559.6 L1410.8,557.0 L1413.7,554.4 L1416.7,551.7 L1419.6,548.9 L1422.5,546.1 L1425.5,543.4 L1428.4,540.7 L1431.5,538.1 L1434.6,535.6 L1437.7,533.1 L1440.9,530.7 L1444.1,528.3 L1447.3,525.9 L1450.5,523.5 L1453.7,521.1 L1456.8,518.6 L1459.9,516.1 L1463.0,513.5 L1466.0,510.8 L1469.0,508.3 L1472.1,505.8 L1475.4,503.4 L1478.7,501.2 L1482.0,499.1 L1485.4,497.0 L1488.9,494.9 L1492.3,492.8 L1495.7,490.7 L1499.1,488.6 L1502.5,486.4 L1505.8,484.1 L1509.0,481.9 L1512.3,479.5 L1515.5,477.2 L1518.8,474.8 L1522.0,472.5 L1525.2,470.1 L1528.4,467.7 L1531.6,465.3 L1534.9,462.9 L1538.1,460.6 L1541.3,458.2 L1544.5,455.8 L1547.7,453.4 L1550.9,451.0 L1554.1,448.6 L1557.3,446.1 L1560.5,443.7 L1563.7,441.3 L1566.9,438.9 L1570.2,436.6 L1573.4,434.2 L1576.7,432.0 L1580.1,429.8 L1583.4,427.6 L1586.8,425.5 L1590.2,423.3 L1593.7,421.2 L1597.2,419.1 L1600.7,417.1 L1604.3,415.2 L1607.9,413.6 L1611.5,412.2 L1615.3,411.0 L1619.1,410.0 L1623.0,409.1 L1627.0,408.3 L1631.0,407.7 L1635.0,407.3 L1638.9,407.2 L1642.8,407.5 L1646.8,408.1 L1650.7,409.1 L1654.5,410.4 L1658.3,411.9 L1662.0,413.5 L1665.6,415.2 L1669.1,417.0 L1672.4,419.1 L1675.7,421.5 L1678.8,424.0 L1681.9,426.6 L1685.0,429.2 L1688.0,431.9 L1691.0,434.6 L1693.9,437.3 L1696.8,440.1 L1699.6,443.0 L1702.3,445.9 L1705.0,448.8 L1707.7,451.8 L1710.3,454.9 L1712.8,458.0 L1715.2,461.1 L1717.7,464.3 L1720.1,467.5 L1722.5,470.7 L1724.8,474.0 L1727.2,477.2 L1729.6,480.4 L1731.9,483.6 L1734.3,486.9 L1736.6,490.1 L1738.9,493.4 L1741.2,496.7 L1743.5,499.9 L1745.8,503.2 L1748.1,506.5 L1750.4,509.8 L1752.6,513.1 L1754.8,516.4 L1757.1,519.8 L1759.3,523.1 L1761.5,526.4 L1763.7,529.8 L1765.9,533.1 L1768.1,536.4 L1770.3,539.8 L1772.5,543.1 L1774.8,546.4 L1777.0,549.8 L1779.2,553.1 L1781.4,556.4 L1783.6,559.7 L1785.8,563.1 L1788.1,566.4 L1790.3,569.7 L1792.4,573.1 L1794.6,576.5 L1796.8,579.9 L1798.9,583.2 L1801.1,586.6 L1803.3,589.9 L1805.6,593.2 L1807.9,596.5 L1810.3,599.6 L1812.8,602.7 L1815.4,605.8 L1818.0,608.8 L1820.7,611.8 L1823.5,614.7 L1826.2,617.6 L1829.1,620.4 L1831.9,623.2 L1834.8,626.0 L1837.7,628.7 L1840.7,631.4 L1843.7,634.1 L1846.7,636.7 L1849.7,639.3 L1852.7,642.0 L1855.8,644.6 L1858.9,647.2 L1862.0,649.7 L1865.1,652.2 L1868.3,654.6 L1871.6,656.8 L1875.0,658.9 L1878.4,660.9 L1881.9,662.8 L1885.5,664.6 L1889.2,666.4 L1892.8,668.0 L1896.5,669.6 L1900.2,671.0 L1903.9,672.4 L1907.7,673.7 L1911.5,675.0 L1915.3,676.2 L1919.2,677.4 L1923.0,678.5 L1926.9,679.6 L1930.8,680.6 L1934.7,681.5 L1938.6,682.4 L1942.5,683.2 L1946.4,683.9 L1950.3,684.6 L1954.3,685.3 L1958.2,685.9 L1962.2,686.5 L1966.2,687.1 L1970.1,687.7 L1974.1,688.3 L1978.0,688.8 L1982.0,689.4 L1986.0,690.0 L1989.9,690.5 L1993.9,691.0 L1997.9,691.4 L2001.8,691.8 L2005.8,692.2 L2009.8,692.6 L2013.8,692.9 L2017.8,693.2 L2021.8,693.5 L2025.8,693.8 L2029.8,694.0" fill="none" stroke="#ff4422" stroke-width="12.2" stroke-linejoin="round" stroke-linecap="butt" />
<path d="M1270.0,739.8 L1274.0,739.6 L1278.0,739.3 L1282.0,739.0 L1285.9,738.5 L1289.9,737.8 L1293.9,737.1 L1297.8,736.3 L1301.7,735.4 L1305.5,734.4 L1309.3,733.2 L1313.1,731.8 L1316.8,730.3 L1320.5,728.7 L1324.0,726.9 L1327.5,724.9 L1330.8,722.8 L1334.2,720.6 L1337.5,718.3 L1340.8,716.0 L1344.2,713.8 L1347.5,711.7 L1350.9,709.6 L1354.4,707.5 L1357.8,705.4 L1361.3,703.4 L1364.8,701.5 L1368.3,699.6 L1371.8,697.7 L1375.4,695.9 L1379.0,694.1 L1382.7,692.6 L1386.4,691.2 L1390.2,689.9 L1394.1,688.8 L1398.0,687.8 L1401.9,686.7 L1405.7,685.5 L1409.3,684.0 L1412.8,682.3 L1416.1,680.2 L1419.4,677.8 L1422.6,675.4 L1425.9,673.2 L1429.3,671.1 L1432.8,669.1 L1436.3,667.2 L1439.9,665.3 L1443.4,663.4 L1446.9,661.4 L1450.3,659.4 L1453.8,657.4 L1457.2,655.3 L1460.6,653.2 L1464.0,651.2 L1467.5,649.1 L1470.9,647.0 L1474.3,645.0 L1477.7,642.9 L1481.2,640.8 L1484.6,638.8 L1488.0,636.6 L1491.3,634.4 L1494.7,632.2 L1498.1,630.1 L1501.6,628.2 L1505.2,626.5 L1508.8,625.1 L1512.6,623.9 L1516.5,622.8 L1520.4,621.8 L1524.3,620.7 L1528.2,619.7 L1532.1,618.6 L1535.9,617.5 L1539.8,616.5 L1543.7,615.8 L1547.6,615.7 L1551.6,616.1 L1555.5,617.0 L1559.2,618.2 L1562.8,619.7 L1566.3,621.6 L1569.6,623.8 L1572.8,626.3 L1576.0,628.8 L1579.1,631.4 L1582.3,633.9 L1585.5,636.3 L1588.6,638.8 L1591.8,641.3 L1594.9,643.8 L1597.9,646.4 L1600.9,649.0 L1603.8,651.7 L1606.7,654.5 L1609.6,657.3 L1612.4,660.2 L1615.2,663.0 L1618.0,665.9 L1620.7,668.8 L1623.4,671.8 L1626.1,674.8 L1628.8,677.8 L1631.4,680.8 L1634.1,683.8 L1636.8,686.7 L1639.6,689.6 L1642.4,692.3 L1645.4,694.9 L1648.5,697.5 L1651.6,700.0 L1654.8,702.4 L1657.9,704.9 L1661.1,707.4 L1664.2,710.0 L1667.2,712.6 L1670.2,715.3 L1673.2,718.0 L1676.3,720.5 L1679.4,722.9 L1682.7,725.2 L1686.1,727.2 L1689.6,729.2 L1693.2,731.0 L1696.8,732.7 L1700.5,734.3 L1704.2,735.7 L1708.0,737.0 L1711.8,738.3 L1715.6,739.4 L1719.5,740.4 L1723.4,741.3 L1727.3,742.1 L1731.3,742.8 L1735.2,743.4 L1739.2,743.9 L1743.2,744.3 L1747.2,744.5 L1751.1,744.7 L1755.1,744.9 L1759.1,745.0 L1763.1,745.1 L1767.1,745.2 L1771.1,745.3 L1775.1,745.3 L1779.2,745.4 L1783.2,745.4 L1787.2,745.4 L1791.2,745.3 L1795.2,745.3 L1799.2,745.2 L1803.2,745.1 L1807.2,745.0 L1811.1,744.8 L1815.1,744.7 L1819.1,744.6 L1823.1,744.5 L1827.1,744.4 L1831.1,744.3 L1835.1,744.2 L1839.1,744.1 L1843.1,744.0 L1847.1,743.9 L1851.1,743.8 L1855.1,743.7 L1859.1,743.6 L1863.1,743.4 L1867.1,743.3 L1871.1,743.1 L1875.1,742.9 L1879.1,742.6 L1883.1,742.3 L1887.1,742.0 L1891.1,741.7 L1895.1,741.4 L1899.0,741.0 L1903.0,740.7 L1907.0,740.3 L1911.0,740.0 L1915.0,739.6 L1919.0,739.2 L1922.9,738.8 L1926.9,738.4 L1930.9,738.0 L1934.9,737.6 L1938.9,737.2 L1942.8,736.8 L1946.8,736.4 L1950.8,736.0 L1954.8,735.6 L1958.8,735.2 L1962.7,734.7 L1966.7,734.3 L1970.7,733.9 L1974.7,733.5 L1978.7,733.1 L1982.6,732.7 L1986.6,732.4 L1990.6,732.0 L1994.6,731.7 L1998.6,731.4 L2002.6,731.1 L2006.6,730.8 L2010.6,730.6 L2014.5,730.3 L2018.5,730.1 L2022.5,729.9 L2026.5,729.7" fill="none" stroke="#2e3d88" stroke-width="12.2" stroke-linejoin="round" stroke-linecap="butt" />
<path d="M1779.2,40.0 L1779.4,44.0 L1779.6,48.0 L1779.8,52.0 L1780.1,56.0 L1780.3,60.0 L1780.6,64.0 L1780.8,68.0 L1781.1,71.9 L1781.4,75.9 L1781.7,79.9 L1782.0,83.9 L1782.4,87.9 L1782.7,91.9 L1783.1,95.9 L1783.5,99.8 L1783.8,103.8 L1784.2,107.8 L1784.6,111.8 L1785.0,115.8 L1785.4,119.7 L1785.9,123.7 L1786.3,127.7 L1786.7,131.7 L1787.1,135.7 L1787.5,139.6 L1788.0,143.6 L1788.4,147.6 L1788.8,151.6 L1789.3,155.5 L1789.7,159.5 L1790.2,163.5 L1790.6,167.5 L1791.1,171.4 L1791.6,175.4 L1792.0,179.4 L1792.5,183.4 L1793.0,187.3 L1793.5,191.3 L1794.0,195.3 L1794.5,199.2 L1794.9,203.2 L1795.4,207.2 L1795.9,211.1 L1796.4,215.1 L1796.9,219.1 L1797.4,223.1 L1797.9,227.0 L1798.4,231.0 L1798.9,235.0 L1799.4,238.9 L1799.9,242.9 L1800.4,246.9 L1800.9,250.8 L1801.4,254.8 L1801.9,258.8 L1802.4,262.7 L1802.9,266.7 L1803.4,270.7 L1804.0,274.6 L1804.5,278.6 L1805.0,282.6 L1805.5,286.5 L1806.0,290.5 L1806.6,294.5 L1807.1,298.4 L1807.6,302.4 L1808.1,306.4 L1808.6,310.3 L1809.2,314.3 L1809.7,318.3 L1810.2,322.2 L1810.7,326.2 L1811.3,330.2 L1811.8,334.1 L1812.3,338.1 L1812.9,342.1 L1813.4,346.0 L1814.0,350.0 L1814.5,353.9 L1815.1,357.9 L1815.7,361.9 L1816.2,365.8 L1816.8,369.8 L1817.4,373.7 L1818.0,377.7 L1818.6,381.6 L1819.2,385.6 L1819.8,389.6 L1820.4,393.5 L1821.0,397.5 L1821.6,401.4 L1822.3,405.4 L1822.9,409.3 L1823.6,413.3 L1824.2,417.2 L1824.9,421.1 L1825.6,425.1 L1826.3,429.0 L1827.0,433.0 L1827.7,436.9 L1828.4,440.8 L1829.1,444.8 L1829.9,448.7 L1830.6,452.6 L1831.4,456.6 L1832.2,460.5 L1833.0,464.4 L1833.8,468.3 L1834.6,472.2 L1835.5,476.1 L1836.3,480.0 L1837.2,484.0 L1838.1,487.9 L1839.0,491.8 L1839.9,495.6 L1840.8,499.5 L1841.8,503.4 L1842.8,507.3 L1843.8,511.2 L1844.8,515.0 L1845.9,518.9 L1847.0,522.7 L1848.1,526.6 L1849.2,530.4 L1850.3,534.3 L1851.5,538.1 L1852.7,541.9 L1853.9,545.7 L1855.1,549.5 L1856.3,553.3 L1857.6,557.1 L1858.9,560.9 L1860.3,564.7 L1861.6,568.4 L1863.0,572.2 L1864.4,575.9 L1865.9,579.7 L1867.3,583.4 L1868.8,587.1 L1870.3,590.8 L1871.9,594.5 L1873.4,598.2 L1875.0,601.8 L1876.7,605.5 L1878.3,609.1 L1880.0,612.7 L1881.8,616.3 L1883.5,619.9 L1885.3,623.5 L1887.1,627.1 L1888.9,630.7 L1890.7,634.3 L1892.7,637.8 L1894.7,641.2 L1896.9,644.5 L1899.2,647.7 L1901.7,650.8 L1904.2,653.9 L1906.9,656.9 L1909.6,659.9 L1912.3,662.9 L1914.9,665.8 L1917.6,668.8 L1920.3,671.8 L1922.9,674.8 L1925.6,677.8 L1928.4,680.7 L1931.2,683.5 L1934.0,686.4 L1936.9,689.2 L1939.8,691.9 L1942.9,694.5 L1946.0,697.0 L1949.1,699.4 L1952.4,701.6 L1955.8,703.7 L1959.2,705.7 L1962.8,707.6 L1966.4,709.4 L1970.0,711.2 L1973.6,712.8 L1977.3,714.4 L1981.0,715.9 L1984.7,717.4 L1988.5,718.7 L1992.3,719.9 L1996.1,721.1 L2000.0,722.1 L2003.9,723.2 L2007.8,724.1 L2011.7,725.0 L2015.6,725.8 L2019.5,726.5 L2023.5,727.1 L2027.4,727.6" fill="none" stroke="#03786f" stroke-width="12.2" stroke-linejoin="round" stroke-linecap="butt" />
<path d="M1270.0,742.5 L1274.0,742.4 L1278.0,742.3 L1282.0,742.1 L1286.0,742.0 L1290.0,741.9 L1294.0,741.7 L1298.0,741.5 L1302.0,741.1 L1305.9,740.5 L1309.8,739.6 L1313.7,738.7 L1317.7,738.0 L1321.6,737.5 L1325.6,737.4 L1329.5,737.6 L1333.5,737.9 L1337.5,738.3 L1341.5,738.7 L1345.5,739.1 L1349.5,739.6 L1353.4,740.0 L1357.4,740.5 L1361.4,741.0 L1365.4,741.5 L1369.3,742.0 L1373.3,742.5 L1377.3,742.8 L1381.3,743.1 L1385.3,743.2 L1389.3,743.2 L1393.3,743.0 L1397.3,742.8 L1401.3,742.6 L1405.3,742.2 L1409.3,741.9 L1413.2,741.4 L1417.1,740.8 L1421.0,739.9 L1424.8,738.8 L1428.6,737.5 L1432.5,736.2 L1436.3,735.0 L1440.1,733.7 L1443.9,732.5 L1447.7,731.3 L1451.5,730.0 L1455.3,728.7 L1459.1,727.4 L1462.8,726.1 L1466.6,724.8 L1470.3,723.4 L1474.1,721.9 L1477.8,720.5 L1481.5,719.0 L1485.2,717.4 L1488.9,715.9 L1492.6,714.4 L1496.3,712.9 L1500.0,711.4 L1503.8,710.0 L1507.5,708.5 L1511.3,707.1 L1515.0,705.7 L1518.7,704.2 L1522.4,702.7 L1526.1,701.1 L1529.7,699.4 L1533.2,697.5 L1536.7,695.6 L1540.2,693.6 L1543.7,691.6 L1547.2,689.7 L1550.8,687.9 L1554.4,686.3 L1558.1,684.9 L1561.9,683.6 L1565.7,682.3 L1569.5,681.1 L1573.3,679.8 L1577.1,678.4 L1580.7,676.8 L1584.3,675.1 L1587.9,673.3 L1591.4,671.3 L1594.9,669.4 L1598.5,667.6 L1602.1,665.9 L1605.8,664.3 L1609.5,663.0 L1613.3,661.9 L1617.2,661.1 L1621.2,660.4 L1625.1,659.8 L1629.1,659.3 L1633.1,658.8 L1637.1,658.3 L1641.1,657.9 L1645.0,657.7 L1649.0,657.7 L1653.0,657.8 L1657.0,658.2 L1661.0,658.6 L1665.0,659.1 L1668.9,659.6 L1672.9,660.1 L1676.9,660.6 L1680.9,661.2 L1684.9,661.8 L1688.8,662.4 L1692.7,663.2 L1696.6,664.1 L1700.4,665.2 L1704.1,666.6 L1707.7,668.2 L1711.3,670.0 L1715.0,671.7 L1718.6,673.3 L1722.4,674.7 L1726.2,675.9 L1730.0,677.0 L1733.9,678.0 L1737.8,679.0 L1741.7,679.9 L1745.6,680.8 L1749.5,681.7 L1753.4,682.5 L1757.3,683.3 L1761.3,684.0 L1765.2,684.9 L1769.1,685.7 L1773.0,686.6 L1776.9,687.6 L1780.7,688.5 L1784.6,689.5 L1788.5,690.5 L1792.4,691.5 L1796.2,692.5 L1800.1,693.5 L1804.0,694.5 L1807.9,695.5 L1811.7,696.5 L1815.6,697.5 L1819.5,698.5 L1823.4,699.5 L1827.2,700.5 L1831.1,701.5 L1835.0,702.4 L1838.9,703.4 L1842.8,704.3 L1846.7,705.2 L1850.6,706.1 L1854.5,706.9 L1858.4,707.8 L1862.3,708.6 L1866.2,709.4 L1870.2,710.2 L1874.1,711.0 L1878.0,711.7 L1881.9,712.5 L1885.9,713.2 L1889.8,713.9 L1893.8,714.6 L1897.7,715.3 L1901.7,716.0 L1905.6,716.6 L1909.6,717.3 L1913.5,717.9 L1917.5,718.4 L1921.5,718.9 L1925.4,719.3 L1929.4,719.6 L1933.4,719.8 L1937.4,720.1 L1941.4,720.3 L1945.4,720.5 L1949.4,720.6 L1953.4,720.8 L1957.4,720.9 L1961.4,721.0 L1965.4,721.0 L1969.4,721.1 L1973.4,721.1 L1977.4,721.1 L1981.4,721.1 L1985.4,721.1 L1989.4,721.1 L1993.4,721.1 L1997.4,721.1 L2001.4,721.1 L2005.4,721.1 L2009.4,721.1 L2013.4,721.1 L2017.4,721.1 L2021.4,721.1 L2025.4,721.1 L2029.4,721.1" fill="none" stroke="#7f7b78" stroke-width="12.2" stroke-linejoin="round" stroke-linecap="butt" />
</g>
<rect x="1277.00" y="70.00" width="744.50" height="2.80" fill="#85847f"/>
<rect x="1275.50" y="70.00" width="3.00" height="688.80" fill="#0a0b06"/>
<rect x="1275.50" y="755.70" width="747.80" height="3.10" fill="#0a0b06"/>
<rect x="1266.50" y="712.50" width="9.50" height="3.00" fill="#55544f"/>
<text x="1259.2" y="725.0" font-size="46.3" text-anchor="end" >0.000</text>
<rect x="1266.50" y="611.30" width="9.50" height="3.00" fill="#a5a4a0"/>
<text x="1259.2" y="623.8" font-size="46.3" text-anchor="end" >0.008</text>
<rect x="1266.50" y="507.90" width="9.50" height="3.00" fill="#0a0b06"/>
<text x="1259.2" y="520.4" font-size="46.3" text-anchor="end" >0.016</text>
<rect x="1266.50" y="404.70" width="9.50" height="3.00" fill="#0a0b06"/>
<text x="1259.2" y="417.2" font-size="46.3" text-anchor="end" >0.024</text>
<rect x="1266.50" y="300.80" width="9.50" height="3.00" fill="#0a0b06"/>
<text x="1259.2" y="313.3" font-size="46.3" text-anchor="end" >0.032</text>
<rect x="1266.50" y="197.50" width="9.50" height="3.00" fill="#0a0b06"/>
<text x="1259.2" y="210.0" font-size="46.3" text-anchor="end" >0.040</text>
<rect x="1266.50" y="94.20" width="9.50" height="3.00" fill="#0a0b06"/>
<text x="1259.2" y="106.7" font-size="46.3" text-anchor="end" >0.048</text>
<rect x="1271.00" y="661.10" width="5.00" height="2.80" fill="#0a0b06"/>
<rect x="1271.00" y="559.90" width="5.00" height="2.80" fill="#0a0b06"/>
<rect x="1271.00" y="456.50" width="5.00" height="2.80" fill="#0a0b06"/>
<rect x="1271.00" y="352.90" width="5.00" height="2.80" fill="#0a0b06"/>
<rect x="1271.00" y="249.10" width="5.00" height="2.80" fill="#0a0b06"/>
<rect x="1271.00" y="146.10" width="5.00" height="2.80" fill="#0a0b06"/>
<rect x="1277.50" y="758.00" width="3.20" height="8.60" fill="#0a0b06"/>
<text x="1278.1" y="810.0" font-size="46" text-anchor="middle" >550</text>
<rect x="1370.47" y="758.00" width="3.00" height="5.00" fill="#0a0b06"/>
<rect x="1463.25" y="758.00" width="3.20" height="8.60" fill="#0a0b06"/>
<text x="1463.8" y="810.0" font-size="46" text-anchor="middle" >600</text>
<rect x="1556.22" y="758.00" width="3.00" height="5.00" fill="#0a0b06"/>
<rect x="1649.00" y="758.00" width="3.20" height="8.60" fill="#0a0b06"/>
<text x="1649.6" y="810.0" font-size="46" text-anchor="middle" >650</text>
<rect x="1741.97" y="758.00" width="3.00" height="5.00" fill="#0a0b06"/>
<rect x="1834.75" y="758.00" width="3.20" height="8.60" fill="#77756f"/>
<text x="1835.3" y="810.0" font-size="46" text-anchor="middle" >700</text>
<rect x="1927.72" y="758.00" width="3.00" height="5.00" fill="#8b8a88"/>
<rect x="2020.10" y="758.00" width="3.20" height="8.60" fill="#77756f"/>
<text x="2021.1" y="810.0" font-size="46" text-anchor="middle" >750</text>
<text x="1642.5" y="882.6" font-size="45" text-anchor="middle" >λ<tspan dx="1.5"> (nm)</tspan></text>
<text transform="translate(1109.4,437.2) rotate(-90)" font-size="45" text-anchor="middle">Absorbance</text>
</svg>
</body></html>
